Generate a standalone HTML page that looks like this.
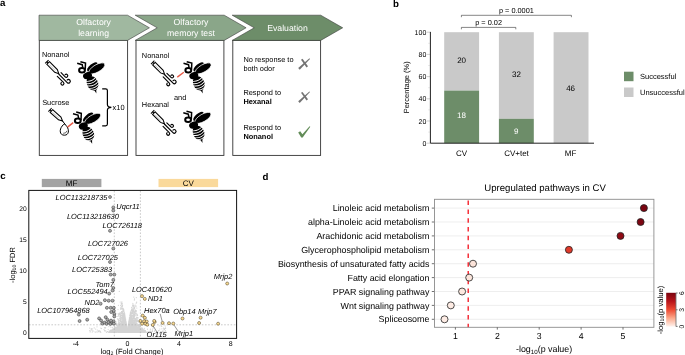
<!DOCTYPE html>
<html><head><meta charset="utf-8"><title>Figure</title>
<style>
html,body{margin:0;padding:0;background:#fff;}
body{width:685px;height:355px;overflow:hidden;}
svg{display:block;}
text{font-family:"Liberation Sans",Arial,Helvetica,sans-serif;fill:#000;text-rendering:geometricPrecision;}
.b{font-weight:bold;}
.i{font-style:italic;}
.w{fill:#fff;}
</style></head><body>
<svg width="685" height="355" viewBox="0 0 685 355">
<defs>
<g id="bee">
 <ellipse cx="11.2" cy="-2.1" rx="6.4" ry="2.7" transform="rotate(-40 11.2 -2.1)" fill="#000"/>
 <ellipse cx="15.8" cy="-0.5" rx="9" ry="3.7" transform="rotate(-30 15.8 -0.5)" fill="#000" stroke="#fff" stroke-width="0.7"/>
 <ellipse cx="6.4" cy="6.7" rx="4.6" ry="3.4" transform="rotate(-22 6.4 6.7)" fill="#000"/>
 <g transform="rotate(-22 11.4 14.4)">
  <path d="M11.4 7.2 C15.2 7.2 17 11 17 14.6 C17 18.6 14.6 21.2 12.4 22 L11.2 25.2 L10.6 22.1 C8 21.4 5.8 18.6 5.8 14.6 C5.8 11 7.6 7.2 11.4 7.2Z" fill="#000"/>
  <g fill="none" stroke="#fff" stroke-width="0.9">
   <path d="M5.2 9.6 Q11.4 13.4 17.6 9.6"/>
   <path d="M5.2 12.1 Q11.4 15.9 17.6 12.1"/>
   <path d="M5.2 14.6 Q11.4 18.4 17.6 14.6"/>
   <path d="M5.2 17.1 Q11.4 20.9 17.6 17.1"/>
   <path d="M6.2 19.5 Q11.4 22.9 16.6 19.5"/>
  </g>
 </g>
 <ellipse cx="0.9" cy="1.4" rx="2.9" ry="2.3" fill="#fff" stroke="#000" stroke-width="2"/>
 <path d="M1.7 -1.2 L1.1 -4.2 L-3.9 -5.6" fill="none" stroke="#000" stroke-width="1.5"/>
 <path d="M4.1 0.9 L4.4 -5.9 L-0.7 -7.2" fill="none" stroke="#000" stroke-width="1.5"/>
</g>
<g id="syr" fill="none" stroke="#000" stroke-width="1.05">
 <path d="M0 -2.4 L0 2.4"/>
 <path d="M0 0 L1.8 0"/>
 <path d="M1.8 -1.85 L13.0 -1.85 L16.8 0 L13.0 1.85 L1.8 1.85 Z" fill="#fff"/>
 <path d="M3.4 0.3 L12.2 0.3" stroke="#b5b5b5" stroke-width="0.7"/>
</g>
<g id="wind" fill="none" stroke="#000" stroke-width="1.15" stroke-linecap="round">
 <path d="M17.8 -2.3 L23.6 -2.3 A1.5 1.5 0 1 0 22.1 -3.8"/>
 <path d="M17.2 0.3 L29.1 0.3 A1.8 1.8 0 1 0 27.3 -1.5"/>
 <path d="M17.7 2.9 L26.4 2.9 A1.5 1.5 0 1 1 24.9 4.4"/>
</g>
<linearGradient id="reds" x1="0" y1="0" x2="0" y2="1">
 <stop offset="0" stop-color="#7a0410"/>
 <stop offset="0.25" stop-color="#b8141a"/>
 <stop offset="0.5" stop-color="#ee4a33"/>
 <stop offset="0.75" stop-color="#fca98c"/>
 <stop offset="1" stop-color="#fff3ee"/>
</linearGradient>
</defs>
<rect width="685" height="355" fill="#fff"/>

<text class="b" x="0" y="5.8" font-size="9.7">a</text>
<rect x="39.3" y="40.4" width="88.3" height="115" fill="#fff" stroke="#333" stroke-width="0.9"/>
<rect x="136" y="40.4" width="87.9" height="115" fill="#fff" stroke="#333" stroke-width="0.9"/>
<rect x="232.8" y="40.4" width="87.8" height="115" fill="#fff" stroke="#333" stroke-width="0.9"/>
<path d="M39 15.2 L127.5 15.2 L149.4 27.8 L127.5 40.4 L39 40.4 Z" fill="#a0b8a0" stroke="#3c3c3c" stroke-width="0.6"/>
<path d="M135.2 15.2 L224.2 15.2 L246.1 27.8 L224.2 40.4 L135.2 40.4 L157.2 27.8 Z" fill="#8aa689" stroke="#3c3c3c" stroke-width="0.6"/>
<path d="M232.2 15.2 L320.7 15.2 L342.7 27.8 L320.7 40.4 L232.2 40.4 L254.2 27.8 Z" fill="#6d8d69" stroke="#3c3c3c" stroke-width="0.6"/>
<text class="w" x="93.6" y="24.7" font-size="8.7" text-anchor="middle">Olfactory</text>
<text class="w" x="93.6" y="36.1" font-size="8.7" text-anchor="middle">learning</text>
<text class="w" x="191" y="24.7" font-size="8.7" text-anchor="middle">Olfactory</text>
<text class="w" x="191" y="36.1" font-size="8.7" text-anchor="middle">memory test</text>
<text class="w" x="287.5" y="30.9" font-size="8.7" text-anchor="middle">Evaluation</text>
<text x="41.9" y="56.7" font-size="7.4">Nonanol</text>
<text x="42.2" y="104.8" font-size="7.4">Sucrose</text>
<g transform="translate(46.85 61.75) rotate(45)"><use href="#syr"/><use href="#wind"/></g>
<use href="#bee" x="81.1" y="68.9"/>
<g transform="translate(50.05 109.8) rotate(42)"><use href="#syr"/></g>
<path d="M62.5 121 L66.9 126.6 C69.4 130 69 135.2 64.4 135.2 C59.4 135.2 59.2 129.6 62.2 126 C63.4 124.4 64.4 123.6 65.2 124.4" fill="none" stroke="#000" stroke-width="1"/>
<path d="M63.2 133.3 Q66.2 133.6 67 130.8" fill="none" stroke="#000" stroke-width="0.6"/>
<path d="M67.6 127.1 L73.2 122.6" stroke="#e85a48" stroke-width="1.4" fill="none"/>
<use href="#bee" x="76.9" y="119.3"/>
<path d="M102.2 88.8 L105.6 88.8 Q107.4 88.8 107.4 90.6 L107.4 104.4 Q107.4 107.2 111.4 107.3 Q107.4 107.4 107.4 110.2 L107.4 124 Q107.4 125.8 105.6 125.8 L102.2 125.8" fill="none" stroke="#000" stroke-width="1.2"/>
<text x="112.6" y="109.6" font-size="7.4">x10</text>
<text x="141.8" y="57.7" font-size="7.4">Nonanol</text>
<text x="141.8" y="106.8" font-size="7.4">Hexanal</text>
<text x="174" y="99.8" font-size="7.4">and</text>
<g transform="translate(152.7 62.4) rotate(45)"><use href="#syr"/><use href="#wind"/></g>
<path d="M177.3 77.1 L183.8 72.2" stroke="#e85a48" stroke-width="1.4" fill="none"/>
<use href="#bee" x="187.4" y="68.9"/>
<g transform="translate(152.6 111.9) rotate(45)"><use href="#syr"/><use href="#wind"/></g>
<use href="#bee" x="187.2" y="118.4"/>
<text x="243.4" y="62" font-size="7.4">No response to</text>
<text x="243.4" y="71.2" font-size="7.4">both odor</text>
<text x="243.4" y="94.8" font-size="7.4">Respond to</text>
<text class="b" x="243.4" y="104" font-size="7.4">Hexanal</text>
<text x="243.4" y="129.8" font-size="7.4">Respond to</text>
<text class="b" x="243.4" y="139" font-size="7.4">Nonanol</text>
<g transform="translate(0 0)" fill="#737373"><path d="M298.2 68.1 L299.7 69.8 L310.0 59.0 L309.4 58.3 Z"/><path d="M301.0 59.7 L302.5 58.8 L308.0 66.2 L306.5 67.4 Z"/></g>
<g transform="translate(0 33.1)" fill="#737373"><path d="M298.2 68.1 L299.7 69.8 L310.0 59.0 L309.4 58.3 Z"/><path d="M301.0 59.7 L302.5 58.8 L308.0 66.2 L306.5 67.4 Z"/></g>
<path d="M298.2 132.4 L300.2 131.2 L302.4 134.3 L309.6 126.2 L310.3 126.8 L302.7 137.5 L301.2 137.5 Z" fill="#628c58"/>
<text class="b" x="393.1" y="7.3" font-size="9.7">b</text>
<rect x="444.2" y="32.2" width="34.9" height="58.4" fill="#c9c9c9"/>
<rect x="444.2" y="90.6" width="34.9" height="52.6" fill="#6d8d69"/>
<rect x="498.9" y="32.2" width="34.9" height="86.6" fill="#c9c9c9"/>
<rect x="498.9" y="118.8" width="34.9" height="24.4" fill="#6d8d69"/>
<rect x="553.6" y="32.2" width="34.9" height="111.0" fill="#c9c9c9"/>
<path d="M428 132.1 L430.4 132.1" stroke="#ddd" stroke-width="0.6"/>
<path d="M428 109.9 L430.4 109.9" stroke="#ddd" stroke-width="0.6"/>
<path d="M428 87.7 L430.4 87.7" stroke="#ddd" stroke-width="0.6"/>
<path d="M428 65.5 L430.4 65.5" stroke="#ddd" stroke-width="0.6"/>
<path d="M428 43.3 L430.4 43.3" stroke="#ddd" stroke-width="0.6"/>
<path d="M427 143.2 L430.4 143.2" stroke="#bbb" stroke-width="0.7"/>
<text x="426.3" y="145.8" font-size="7" text-anchor="end">0</text>
<path d="M427 121.0 L430.4 121.0" stroke="#bbb" stroke-width="0.7"/>
<text x="426.3" y="123.6" font-size="7" text-anchor="end">20</text>
<path d="M427 98.8 L430.4 98.8" stroke="#bbb" stroke-width="0.7"/>
<text x="426.3" y="101.4" font-size="7" text-anchor="end">40</text>
<path d="M427 76.6 L430.4 76.6" stroke="#bbb" stroke-width="0.7"/>
<text x="426.3" y="79.2" font-size="7" text-anchor="end">60</text>
<path d="M427 54.4 L430.4 54.4" stroke="#bbb" stroke-width="0.7"/>
<text x="426.3" y="57.0" font-size="7" text-anchor="end">80</text>
<path d="M427 32.2 L430.4 32.2" stroke="#bbb" stroke-width="0.7"/>
<text x="426.3" y="34.8" font-size="7" text-anchor="end">100</text>
<path d="M430.4 31.9 L430.4 143.2 L594 143.2" fill="none" stroke="#222" stroke-width="1"/>
<text x="461.6" y="63.2" font-size="8" text-anchor="middle">20</text>
<text class="w" x="461.4" y="118.3" font-size="8" text-anchor="middle">18</text>
<text x="516.4" y="76.6" font-size="8" text-anchor="middle">32</text>
<text class="w" x="516.3" y="134" font-size="8" text-anchor="middle">9</text>
<text x="570.6" y="91.2" font-size="8" text-anchor="middle">46</text>
<text x="461.5" y="155.8" font-size="8" text-anchor="middle">CV</text>
<text x="516.5" y="155.8" font-size="8" text-anchor="middle">CV+tet</text>
<text x="570.6" y="155.8" font-size="8" text-anchor="middle">MF</text>
<text transform="translate(409 87.3) rotate(-90)" font-size="7.5" text-anchor="middle">Percentage (%)</text>
<path d="M461.4 17.2 L461.4 15.3 L571.4 15.3 L571.4 17.2" fill="none" stroke="#333" stroke-width="0.6"/>
<path d="M461.4 29.3 L461.4 27.4 L515.8 27.4 L515.8 29.3" fill="none" stroke="#333" stroke-width="0.6"/>
<text x="516.4" y="12.6" font-size="7.35" text-anchor="middle">p = 0.0001</text>
<text x="488.6" y="24.8" font-size="7.35" text-anchor="middle">p = 0.02</text>
<rect x="624" y="71.7" width="9.5" height="9.5" fill="#6d8d69"/>
<rect x="624" y="87.5" width="9.5" height="9.5" fill="#c9c9c9"/>
<text x="640" y="79.1" font-size="7.5">Successful</text>
<text x="640" y="94.9" font-size="7.5">Unsuccessful</text>
<text class="b" x="0.2" y="178.6" font-size="9.7">c</text>
<rect x="41.8" y="178.9" width="59.6" height="8.2" fill="#a3a3a3"/>
<rect x="158.5" y="178.9" width="59.6" height="8.2" fill="#fad99b"/>
<text x="71.6" y="186" font-size="8" text-anchor="middle">MF</text>
<text x="188.3" y="186" font-size="8" text-anchor="middle">CV</text>
<path d="M125.9 327.4h0M133.9 327.7h0M133.9 332.4h0M125.4 332.4h0M117.7 331.7h0M128.8 322.4h0M122.2 303.4h0M130.4 332.1h0M131.1 316.7h0M130.6 323.7h0M122.3 332.4h0M131.1 321.5h0M122.9 323.0h0M122.7 314.5h0M126.0 328.8h0M123.6 332.2h0M118.9 331.5h0M125.8 326.7h0M128.1 327.3h0M123.9 324.4h0M118.9 332.3h0M124.9 314.9h0M129.5 330.2h0M126.8 331.2h0M128.8 332.5h0M127.7 332.3h0M118.3 332.2h0M130.5 328.9h0M129.3 331.7h0M119.7 329.6h0M133.4 327.8h0M119.4 313.1h0M134.7 326.4h0M125.2 326.0h0M129.4 331.8h0M130.2 332.4h0M130.7 332.3h0M126.5 326.4h0M124.9 331.4h0M124.2 332.2h0M125.0 332.3h0M124.9 320.3h0M128.1 326.6h0M124.2 326.2h0M125.9 330.9h0M132.4 324.1h0M128.3 332.1h0M131.4 331.2h0M122.0 332.5h0M132.0 330.6h0M122.3 326.4h0M124.7 331.5h0M128.7 328.3h0M136.4 321.8h0M121.4 332.3h0M123.8 318.0h0M128.9 332.2h0M136.1 331.5h0M134.9 315.0h0M123.1 332.0h0M134.9 330.7h0M127.3 332.4h0M123.5 328.2h0M136.1 326.9h0M133.4 322.9h0M126.3 330.6h0M127.6 330.7h0M130.5 321.6h0M122.6 324.7h0M117.8 332.0h0M123.3 330.5h0M128.4 329.8h0M128.2 331.0h0M122.2 324.4h0M125.2 327.8h0M137.3 329.1h0M129.3 329.6h0M131.3 332.4h0M122.5 308.8h0M125.6 332.2h0M138.7 329.9h0M133.0 324.8h0M138.4 331.1h0M121.0 328.4h0M129.1 325.6h0M134.7 324.8h0M132.6 320.6h0M125.3 317.3h0M131.1 332.2h0M127.2 331.1h0M127.0 331.7h0M136.5 329.4h0M135.1 319.1h0M126.6 332.5h0M125.1 332.4h0M135.0 306.2h0M128.7 324.3h0M122.3 323.3h0M131.5 332.1h0M123.2 332.2h0M128.4 332.1h0M125.5 324.2h0M125.7 332.1h0M126.8 332.1h0M136.8 318.0h0M129.8 317.2h0M135.8 324.3h0M116.4 324.2h0M121.4 315.3h0M123.5 329.5h0M130.3 332.4h0M127.1 332.4h0M126.5 331.8h0M124.1 328.2h0M126.2 322.6h0M123.2 308.3h0M127.2 332.2h0M120.6 331.0h0M126.8 332.1h0M132.4 332.4h0M132.3 330.9h0M121.3 312.9h0M122.3 309.2h0M119.7 331.6h0M126.1 332.5h0M133.7 318.6h0M126.3 332.3h0M131.0 314.1h0M123.7 331.3h0M130.4 329.8h0M136.1 318.4h0M121.7 317.3h0M126.9 329.3h0M127.3 332.1h0M126.2 327.1h0M127.4 332.5h0M126.9 329.6h0M134.1 327.1h0M121.2 332.3h0M130.1 322.2h0M124.9 332.5h0M131.7 320.5h0M124.3 330.7h0M120.9 324.6h0M136.4 330.7h0M140.9 332.5h0M123.0 331.3h0M131.2 324.3h0M131.8 307.7h0M130.4 316.7h0M126.2 324.2h0M126.1 332.5h0M121.1 329.2h0M130.8 330.3h0M127.6 331.1h0M129.0 321.8h0M124.5 330.8h0M123.5 330.6h0M130.0 319.9h0M124.4 331.2h0M126.7 332.3h0M130.5 315.1h0M134.2 313.0h0M136.4 323.1h0M127.5 332.3h0M140.1 331.5h0M122.2 329.8h0M126.3 331.9h0M124.7 326.6h0M124.6 332.0h0M130.7 327.1h0M129.8 315.6h0M124.4 331.7h0M131.9 332.3h0M127.7 331.3h0M134.7 325.7h0M121.3 327.6h0M126.3 331.8h0M130.3 327.4h0M119.5 330.5h0M126.8 331.6h0M128.3 332.5h0M124.3 327.8h0M127.3 332.3h0M131.7 332.2h0M131.4 320.8h0M136.1 313.6h0M128.0 330.7h0M137.2 329.8h0M134.7 328.8h0M130.5 324.1h0M126.5 332.5h0M119.8 326.4h0M128.7 332.5h0M125.3 318.4h0M120.0 323.4h0M127.8 328.2h0M126.0 332.5h0M118.7 324.5h0M127.0 328.7h0M127.6 332.2h0M119.7 330.9h0M130.2 327.6h0M131.7 329.9h0M129.2 331.8h0M127.7 329.1h0M123.7 331.3h0M124.2 312.5h0M129.3 330.2h0M132.8 315.0h0M135.8 326.2h0M123.7 331.8h0M132.1 329.0h0M130.3 314.2h0M128.8 324.6h0M130.1 332.5h0M121.9 305.3h0M119.3 332.5h0M118.4 305.3h0M129.4 319.6h0M127.0 328.7h0M124.9 316.4h0M124.0 321.1h0M125.5 332.5h0M127.9 330.5h0M128.6 331.9h0M124.1 328.4h0M114.1 330.4h0M130.5 318.4h0M128.5 331.4h0M125.1 322.2h0M130.8 319.9h0M127.4 332.5h0M131.9 332.3h0M133.0 316.1h0M123.4 328.1h0M121.1 312.6h0M125.9 323.9h0M125.4 330.4h0M127.1 332.3h0M127.5 331.3h0M122.9 328.1h0M134.3 330.5h0M130.4 312.4h0M128.8 331.5h0M130.2 314.4h0M131.6 330.7h0M129.8 332.3h0M120.8 330.7h0M125.2 331.8h0M127.2 331.2h0M127.7 332.2h0M125.8 331.3h0M130.4 326.4h0M129.9 329.7h0M119.5 332.2h0M132.0 327.8h0M126.4 324.2h0M124.5 330.0h0M124.9 323.0h0M127.6 330.5h0M117.9 324.5h0M132.2 331.7h0M134.7 316.2h0M129.5 326.4h0M122.7 331.9h0M125.9 322.3h0M132.6 312.5h0M128.4 324.7h0M134.0 332.4h0M128.9 324.8h0M128.4 326.0h0M129.2 331.9h0M121.7 327.7h0M130.5 321.5h0M128.7 329.0h0M127.5 331.6h0M133.2 322.4h0M123.9 328.5h0M122.1 318.9h0M121.5 332.5h0M122.5 330.9h0M128.3 330.8h0M130.2 332.3h0M131.7 332.3h0M120.9 332.4h0M125.8 325.8h0M128.6 332.5h0M121.7 302.9h0M128.9 320.8h0M132.6 305.9h0M121.6 331.7h0M131.1 316.6h0M131.7 310.1h0M126.8 331.9h0M131.0 331.9h0M128.0 330.7h0M123.8 314.8h0M120.2 302.0h0M135.6 325.8h0M128.7 321.6h0M122.5 315.4h0M124.0 320.2h0M137.7 329.2h0M124.8 332.5h0M130.6 324.3h0M121.1 303.9h0M128.6 332.5h0M132.8 332.1h0M124.8 326.3h0M124.1 323.9h0M124.3 314.3h0M127.5 332.5h0M123.7 332.5h0M122.8 329.1h0M123.6 311.0h0M127.5 332.5h0M121.6 330.6h0M136.8 332.5h0M114.3 331.3h0M129.9 328.0h0M120.7 331.4h0M125.6 332.5h0M135.2 311.2h0M132.8 325.7h0M127.1 332.3h0M130.7 332.5h0M122.5 318.2h0M132.6 330.3h0M121.5 311.6h0M126.6 325.5h0M129.9 332.5h0M127.1 330.6h0M136.4 327.5h0M131.2 331.1h0M134.3 314.4h0M119.2 323.0h0M132.2 311.2h0M126.2 331.5h0M129.3 332.4h0M130.1 332.5h0M137.9 326.3h0M128.3 332.5h0M124.5 322.9h0M127.2 331.6h0M130.0 331.7h0M128.6 325.3h0M130.5 318.2h0M124.2 332.3h0M135.4 330.7h0M124.8 332.5h0M127.2 331.1h0M124.0 311.5h0M132.2 332.5h0M122.1 313.8h0M122.2 323.6h0M129.8 332.4h0M128.9 332.5h0M130.3 313.4h0M134.1 323.5h0M128.5 330.2h0M121.1 330.1h0M131.9 331.2h0M125.3 332.3h0M125.8 324.8h0M124.1 323.8h0M123.8 328.9h0M129.3 321.1h0M131.3 330.8h0M133.0 327.8h0M130.6 328.0h0M124.1 330.2h0M133.7 317.0h0M127.2 332.0h0M128.5 332.3h0M115.7 329.3h0M129.2 325.7h0M129.3 332.2h0M127.5 332.1h0M130.1 331.8h0M136.7 332.0h0M130.0 329.8h0M123.9 323.2h0M130.5 329.4h0M133.1 311.8h0M119.2 323.2h0M132.4 327.6h0M126.7 331.2h0M118.8 324.5h0M128.6 324.3h0M128.8 324.3h0M123.8 327.7h0M124.3 332.3h0M127.4 332.5h0M123.1 320.3h0M130.7 323.0h0M128.4 330.3h0M129.0 328.8h0M133.5 322.3h0M126.0 327.8h0M130.8 328.8h0M131.2 321.2h0M119.7 331.9h0M132.8 332.4h0M126.5 332.5h0M122.1 317.3h0M124.7 331.5h0M126.7 330.5h0M129.4 330.2h0M128.1 328.3h0M130.4 328.0h0M123.6 309.7h0M125.4 332.3h0M130.1 318.8h0M126.8 332.1h0M124.1 332.5h0M126.6 332.0h0M125.3 329.6h0M121.9 328.3h0M137.7 332.3h0M133.3 311.6h0M131.4 332.5h0M127.4 332.5h0M128.4 331.4h0M134.6 307.9h0M133.6 311.2h0M124.9 322.7h0M127.0 332.4h0M125.4 329.2h0M131.6 326.1h0M116.2 332.5h0M130.9 325.2h0M121.8 327.9h0M114.5 332.2h0M122.0 332.5h0M134.3 323.6h0M128.6 327.2h0M123.7 314.7h0M123.0 325.0h0M127.9 331.5h0M120.9 307.6h0M130.2 327.6h0M126.5 324.4h0M121.6 328.8h0M125.4 327.3h0M120.7 332.4h0M125.3 327.9h0M132.1 332.5h0M132.2 321.7h0M121.3 315.8h0M120.2 330.7h0M124.2 320.1h0M130.4 332.5h0M129.4 326.1h0M127.2 331.9h0M124.8 325.0h0M129.2 328.1h0M130.2 319.7h0M133.1 320.9h0M125.1 325.6h0M128.2 332.5h0M136.2 331.8h0M129.8 319.3h0M128.2 328.7h0M127.9 332.3h0M127.1 331.0h0M125.8 321.3h0M127.0 330.3h0M128.4 328.7h0M128.4 331.7h0M126.9 328.9h0M125.4 330.4h0M121.8 317.7h0M133.8 327.8h0M122.4 327.3h0M123.0 332.4h0M123.4 327.9h0M131.7 320.0h0M127.3 332.4h0M132.5 330.2h0M133.7 316.0h0M132.0 332.3h0M117.6 330.5h0M127.4 332.5h0M120.6 324.3h0M128.6 326.7h0M129.1 332.4h0M130.9 331.3h0M120.9 319.8h0M128.8 332.1h0M125.7 328.3h0M121.7 331.8h0M133.9 310.1h0M123.0 325.2h0M128.9 320.6h0M131.9 323.7h0M126.7 331.2h0M131.7 332.5h0M128.5 332.4h0M139.4 332.3h0M122.6 332.1h0M131.7 324.0h0M122.4 331.7h0M131.7 329.2h0M129.4 332.2h0M127.8 330.3h0M125.1 322.8h0M131.5 330.8h0M132.1 331.7h0M127.6 331.1h0M136.6 330.7h0M140.4 329.5h0M131.4 332.3h0M122.3 312.1h0M125.2 331.7h0M136.0 318.8h0M134.6 329.7h0M124.5 331.1h0M130.2 332.0h0M122.3 307.9h0M129.4 320.6h0M125.4 329.1h0M126.4 332.1h0M129.7 331.1h0M129.0 325.8h0M123.1 332.5h0M129.3 332.2h0M129.8 318.0h0M128.9 332.3h0M131.6 319.2h0M128.2 332.4h0M122.1 330.2h0M129.6 324.5h0M130.3 331.7h0M136.0 325.0h0M127.1 329.8h0M130.6 331.8h0M130.1 332.0h0M122.0 332.5h0M121.1 323.1h0M123.5 328.9h0M127.4 332.2h0M133.9 322.9h0M120.3 332.5h0M131.4 331.7h0M130.9 317.2h0M130.0 323.7h0M127.8 331.0h0M121.1 315.1h0M136.8 308.0h0M132.2 325.2h0M126.9 331.6h0M132.5 310.1h0M118.8 331.3h0M133.7 327.1h0M117.6 318.9h0M125.1 330.6h0M127.4 332.3h0M122.7 332.4h0M121.1 332.5h0M135.5 329.5h0M125.4 328.1h0M134.6 330.0h0M124.5 332.2h0M126.6 330.4h0M129.2 332.3h0M125.8 331.4h0M127.5 332.0h0M131.7 323.9h0M125.1 324.1h0M120.3 317.9h0M122.5 330.8h0M128.6 331.0h0M126.6 331.6h0M130.2 326.6h0M127.9 332.5h0M131.7 332.4h0M122.6 316.9h0M130.6 312.8h0M127.2 332.2h0M122.2 320.8h0M133.7 322.9h0M126.7 328.7h0M130.0 318.6h0M137.3 315.4h0M122.8 326.6h0M126.6 331.3h0M122.0 329.2h0M130.0 327.9h0M123.9 330.4h0M132.1 322.9h0M138.5 326.8h0M116.0 332.5h0M134.6 322.8h0M136.2 319.3h0M134.4 322.2h0M125.1 330.4h0M124.8 329.9h0M121.3 321.1h0M116.9 331.0h0M130.1 327.6h0M123.7 331.7h0M122.0 328.6h0M135.7 332.4h0M118.7 328.3h0M127.2 332.3h0M131.6 320.8h0M129.6 327.5h0M126.6 330.3h0M135.0 325.6h0M129.8 322.4h0M129.5 332.0h0M128.1 332.5h0M128.1 329.2h0M125.3 331.4h0M137.6 315.2h0M123.7 329.0h0M133.4 319.3h0M127.4 332.3h0M130.5 315.7h0M129.4 327.1h0M120.3 330.6h0M123.1 326.2h0M128.6 332.2h0M125.1 316.5h0M125.5 332.3h0M121.8 327.2h0M130.1 319.6h0M124.8 331.8h0M126.5 332.5h0M124.7 332.0h0M126.7 332.0h0M128.9 330.1h0M132.8 331.7h0M121.8 327.9h0M131.2 310.4h0M128.3 332.4h0M126.2 324.1h0M122.7 330.8h0M124.3 316.5h0M132.4 323.7h0M126.1 330.9h0M123.3 330.0h0M125.5 332.0h0M130.4 323.5h0M133.2 328.2h0M122.5 332.4h0M125.8 332.3h0M126.4 331.1h0M130.6 332.5h0M123.7 329.6h0M120.1 313.2h0M127.5 332.3h0M124.9 332.3h0M135.5 310.8h0M130.7 331.6h0M125.5 332.5h0M124.3 331.8h0M131.4 319.5h0M127.2 331.3h0M127.3 331.0h0M128.2 332.5h0M132.2 332.4h0M127.5 331.5h0M130.6 320.5h0M135.1 326.1h0M127.2 332.3h0M139.3 322.2h0M123.0 332.4h0M125.4 328.6h0M130.1 321.5h0M123.2 332.4h0M123.7 331.5h0M126.2 327.5h0M125.3 331.6h0M123.7 332.0h0M122.6 313.2h0M118.0 331.1h0M123.5 327.2h0M128.5 332.4h0M126.1 332.0h0M131.8 331.5h0M125.5 332.3h0M124.5 329.9h0M128.5 332.5h0M137.1 332.2h0M124.1 325.5h0M132.6 326.7h0M130.1 332.5h0M134.7 316.9h0M135.2 329.9h0M127.5 332.5h0M129.1 331.3h0M130.7 317.0h0M130.6 319.5h0M132.0 329.5h0M131.7 329.8h0M122.4 328.4h0M129.5 332.5h0M124.0 330.5h0M125.3 325.2h0M130.6 312.2h0M133.5 331.2h0M127.3 331.6h0M133.7 326.1h0M125.6 328.9h0M122.8 327.1h0M121.9 306.4h0M125.6 328.1h0M125.2 332.4h0M124.5 313.9h0M135.2 305.0h0M123.9 330.5h0M124.5 330.1h0M128.4 332.2h0M124.7 332.4h0M124.4 325.7h0M121.2 321.4h0M125.1 332.0h0M133.0 332.1h0M130.3 332.3h0M123.1 326.1h0M123.5 324.3h0M132.7 321.7h0M132.6 332.3h0M125.2 332.3h0M136.7 332.0h0M130.2 331.9h0M134.6 308.8h0M127.7 332.3h0M126.7 330.1h0M128.5 327.6h0M132.1 329.2h0M128.1 327.6h0M131.4 318.7h0M136.2 332.4h0M125.3 327.8h0M128.3 325.3h0M125.4 331.9h0M128.3 332.4h0M128.6 329.4h0M125.2 330.2h0M134.7 321.0h0M123.5 310.1h0M125.6 329.0h0M134.7 332.5h0M131.8 319.9h0M122.2 331.7h0M130.7 316.0h0M125.6 331.0h0M130.0 326.2h0M130.8 329.6h0M119.9 326.4h0M127.0 331.0h0M126.8 331.2h0M129.2 332.2h0M125.2 331.3h0M122.9 323.5h0M128.7 328.2h0M124.3 319.4h0M124.1 320.6h0M119.2 327.2h0M121.8 332.4h0M124.7 314.3h0M121.9 330.6h0M127.9 332.4h0M120.3 329.0h0M128.4 331.7h0M124.0 325.8h0M130.6 325.3h0M132.8 313.4h0M116.9 332.3h0M115.0 328.0h0M127.3 332.5h0M126.4 332.1h0M124.3 324.9h0M132.9 331.3h0M125.9 328.1h0M129.8 327.5h0M122.9 320.9h0M120.2 328.0h0M133.0 332.4h0M123.7 326.7h0M123.7 327.4h0M129.4 326.9h0M126.6 332.4h0M129.2 324.4h0M136.4 324.2h0M119.9 320.0h0M123.1 329.6h0M127.1 330.9h0M128.2 331.8h0M129.7 329.1h0M126.2 323.2h0M127.9 331.2h0M121.8 328.2h0M131.6 317.6h0M128.6 332.3h0M133.8 321.5h0M133.1 328.1h0M129.5 323.9h0M130.4 332.5h0M128.2 325.5h0M119.1 327.3h0M129.4 330.9h0M129.7 323.6h0M135.1 325.9h0M128.7 329.0h0M124.5 331.2h0M126.9 332.2h0M130.2 324.4h0M121.8 331.0h0M124.3 317.1h0M130.5 320.7h0M129.5 330.8h0M115.2 331.0h0M124.2 328.1h0M116.8 330.2h0M131.5 316.9h0M129.8 319.6h0M132.3 332.5h0M139.4 332.5h0M130.2 322.0h0M130.3 323.3h0M139.3 332.4h0M128.4 328.3h0M134.1 330.5h0M124.9 332.5h0M132.5 309.3h0M124.3 328.6h0M131.2 332.0h0M126.9 332.4h0M123.3 310.7h0M130.7 315.4h0M126.9 332.3h0M127.2 332.5h0M121.5 322.0h0M126.8 329.8h0M123.2 324.7h0M123.3 328.0h0M133.1 327.6h0M124.7 313.6h0M123.1 330.9h0M128.3 326.5h0M130.1 332.5h0M125.6 326.8h0M122.6 305.1h0M127.1 331.6h0M120.8 327.2h0M126.0 329.4h0M120.8 328.7h0M122.4 331.0h0M123.9 313.8h0M118.2 319.7h0M123.3 332.0h0M133.8 322.7h0M116.9 329.5h0M132.5 326.1h0M129.8 331.4h0M131.8 315.1h0M121.1 332.2h0M132.6 328.4h0M123.2 328.9h0M124.3 332.5h0M129.7 332.4h0M131.4 330.6h0M125.5 322.3h0M118.3 314.6h0M126.2 330.5h0M121.2 329.5h0M121.7 304.2h0M136.4 326.1h0M124.8 332.4h0M127.6 331.7h0M135.1 323.7h0M116.6 323.4h0M127.0 332.5h0M124.3 320.0h0M127.8 332.3h0M136.9 332.0h0M135.7 318.6h0M135.7 310.5h0M135.8 324.8h0M129.7 330.7h0M126.8 326.3h0M126.7 331.8h0M127.0 331.2h0M121.4 332.4h0M123.5 316.5h0M130.2 331.7h0M134.2 327.2h0M120.8 320.0h0M120.5 331.0h0M133.9 332.4h0M124.6 329.3h0M122.7 330.4h0M128.8 326.8h0M129.9 328.8h0M133.2 306.9h0M119.8 332.4h0M128.9 328.3h0M133.0 322.3h0M129.5 325.3h0M125.2 331.8h0M129.1 321.2h0M128.1 332.4h0M130.4 329.0h0M125.0 318.3h0M126.1 332.5h0M126.8 328.4h0M126.3 329.2h0M124.3 332.0h0M131.8 313.4h0M133.0 319.2h0M128.6 332.4h0M118.3 323.8h0M126.2 325.3h0M122.7 329.0h0M127.4 332.2h0M125.0 332.2h0M125.8 323.3h0M129.3 332.5h0M135.4 332.4h0M124.2 331.2h0M127.2 331.0h0M126.7 330.5h0M133.5 311.1h0M125.9 329.3h0M134.3 331.8h0M122.6 328.4h0M125.6 332.1h0M124.1 332.3h0M129.5 328.7h0M124.6 328.2h0M131.1 326.4h0M124.8 329.5h0M128.3 332.0h0M132.1 309.8h0M133.7 310.3h0M125.8 325.5h0M130.0 332.5h0M121.9 329.8h0M129.3 327.7h0M128.2 327.9h0M126.9 332.2h0M113.9 332.4h0M120.8 308.2h0M129.8 317.9h0M125.3 331.6h0M126.5 332.3h0M125.6 332.0h0M128.4 324.1h0M137.7 320.7h0M127.5 332.4h0M135.1 327.5h0M135.3 313.5h0M127.3 331.5h0M132.6 321.8h0M130.8 312.0h0M130.1 314.8h0M128.4 326.1h0M127.8 331.5h0M128.0 327.7h0M123.8 328.9h0M129.6 325.0h0M137.5 324.1h0M134.1 332.5h0M135.6 324.9h0M122.3 329.1h0M128.6 325.1h0M123.9 332.3h0M126.2 330.5h0M121.8 332.0h0M126.7 327.9h0M129.3 319.5h0M124.7 317.7h0M117.9 325.0h0M131.2 315.9h0M131.1 332.5h0M133.7 325.1h0M129.0 330.9h0M126.2 328.6h0M123.1 328.7h0M121.9 301.9h0M131.9 324.0h0M126.1 332.5h0M126.0 321.9h0M129.9 326.3h0M125.8 330.6h0M127.3 332.3h0M127.8 331.2h0M130.3 329.6h0M136.3 310.6h0M131.4 315.3h0M128.9 332.3h0M115.6 331.0h0M127.1 332.2h0M132.0 328.4h0M141.9 330.2h0M122.3 331.3h0M124.7 332.3h0M127.0 331.9h0M131.9 331.4h0M132.7 310.5h0M128.3 332.3h0M127.7 331.4h0M122.8 330.4h0M119.0 320.1h0M125.4 331.5h0M127.6 330.5h0M122.4 306.3h0M127.5 332.1h0M127.6 332.0h0M128.4 331.7h0M123.8 328.9h0M136.3 327.1h0M119.2 327.2h0M132.0 324.5h0M130.9 332.4h0M122.2 322.4h0M125.7 324.3h0M129.2 326.4h0M127.6 330.5h0M129.6 324.4h0M125.1 331.2h0M128.4 332.4h0M121.7 332.3h0M130.1 332.5h0M125.2 331.3h0M133.3 322.1h0M128.0 328.4h0M130.6 324.1h0M124.6 326.3h0M129.5 331.8h0M133.0 323.1h0M137.3 332.5h0M121.3 332.4h0M121.0 320.2h0M121.8 321.2h0M129.1 319.1h0M132.3 329.3h0M129.6 328.8h0M131.7 320.2h0M125.7 331.0h0M129.6 331.2h0M130.7 326.7h0M123.8 321.0h0M128.9 328.7h0M122.7 316.6h0M127.0 332.3h0M124.3 329.9h0M130.9 329.6h0M135.8 323.3h0M129.6 332.1h0M128.5 322.9h0M136.2 322.2h0M128.7 332.4h0M121.0 330.9h0M127.4 332.2h0M123.9 310.7h0M126.8 328.3h0M129.1 332.5h0M129.1 330.6h0M125.7 322.1h0M125.2 330.8h0M118.8 322.0h0M124.9 331.4h0M132.1 332.2h0M124.9 331.8h0M120.0 316.3h0M125.7 332.4h0M127.1 331.7h0M120.4 312.9h0M127.9 329.8h0M124.2 315.0h0M125.7 331.7h0M131.6 328.5h0M130.0 325.2h0M127.3 332.5h0M137.7 332.4h0M131.5 310.2h0M121.1 318.0h0M131.4 331.9h0M137.1 332.0h0M136.4 330.9h0M128.6 329.8h0M130.4 324.7h0M118.8 332.2h0M134.3 329.3h0M126.8 329.2h0M124.5 324.2h0M129.0 332.3h0M134.6 327.6h0M131.9 330.0h0M127.7 331.3h0M137.2 332.5h0M129.9 323.9h0M121.7 325.6h0M120.7 316.9h0M132.2 332.5h0M122.6 327.2h0M130.0 316.1h0M118.9 329.7h0M125.7 331.1h0M137.1 328.8h0M127.4 332.5h0M128.9 322.5h0M122.7 315.3h0M135.4 320.5h0M136.0 328.1h0M123.5 325.4h0M130.8 326.3h0M123.2 309.3h0M128.5 324.5h0M131.9 318.4h0M131.0 328.0h0M124.0 320.0h0M127.5 332.4h0M136.2 330.5h0M126.5 329.1h0M120.3 318.6h0M125.7 332.4h0M128.3 331.4h0M129.2 329.1h0M136.1 329.1h0M127.8 332.5h0M125.4 325.5h0M118.6 332.1h0M132.2 312.3h0M129.4 321.6h0M130.2 331.0h0M131.2 312.8h0M132.1 322.8h0M125.5 332.2h0M123.1 331.2h0M128.3 326.4h0M137.6 325.8h0M126.9 329.0h0M127.3 332.2h0M130.8 318.5h0M126.2 326.3h0M128.0 332.2h0M123.3 321.9h0M115.9 332.4h0M121.7 330.7h0M133.5 332.0h0M118.5 332.1h0M132.3 331.6h0M128.2 332.4h0M132.4 325.9h0M134.2 332.3h0M129.1 328.4h0M138.1 317.9h0M127.6 330.3h0M128.0 332.1h0M133.1 314.8h0M133.1 329.2h0M129.8 330.3h0M127.8 330.7h0M126.1 330.1h0M127.0 332.2h0M119.5 314.6h0M130.9 314.0h0M129.1 327.7h0M129.4 331.8h0M133.5 331.8h0M130.9 324.8h0M132.9 317.8h0M141.5 329.0h0M135.5 330.5h0M129.4 317.7h0M123.4 309.2h0M123.0 320.3h0M133.0 331.7h0M127.4 332.2h0M127.1 331.3h0M126.6 332.1h0M138.1 331.3h0M132.0 323.0h0M128.9 331.8h0M131.2 327.5h0M136.7 329.1h0M133.0 332.4h0M129.7 332.5h0M126.2 323.0h0M131.6 325.2h0M133.5 317.7h0M124.5 331.3h0M123.2 315.7h0M139.4 330.4h0M131.1 330.9h0M127.9 331.1h0M126.4 327.6h0M122.7 319.7h0M127.6 331.8h0M123.4 321.9h0M133.6 310.8h0M114.2 329.8h0M128.4 331.3h0M122.3 332.0h0M128.1 332.0h0M130.5 329.1h0M125.3 327.3h0M134.5 327.6h0M125.6 332.1h0M126.3 328.2h0M130.4 313.8h0M128.6 328.4h0M127.9 332.2h0M130.8 316.3h0M132.9 331.2h0M134.6 311.9h0M127.9 332.3h0M127.2 332.4h0M126.5 324.7h0M130.2 315.5h0M130.6 330.1h0M122.4 327.3h0M122.9 332.4h0M130.4 332.3h0M121.0 330.0h0M129.8 330.5h0M123.7 311.8h0M130.6 322.3h0M120.5 330.5h0M130.5 332.3h0M124.2 321.7h0M130.8 331.3h0M134.5 320.1h0M129.9 326.6h0M133.8 330.4h0M127.1 331.4h0M127.2 330.9h0M128.3 329.2h0M124.5 316.4h0M128.8 327.4h0M127.2 332.3h0M128.9 326.4h0M137.4 327.7h0M123.7 332.4h0M125.5 332.5h0M124.1 313.5h0M132.0 331.4h0M132.4 324.3h0M121.4 322.9h0M127.8 332.5h0M122.3 330.6h0M125.4 331.0h0M125.4 329.4h0M124.3 332.5h0M140.0 331.5h0M119.5 328.7h0M132.4 332.2h0M129.2 331.3h0M127.8 332.5h0M130.5 326.5h0M129.2 332.1h0M128.0 331.8h0M130.5 312.8h0M130.7 320.4h0M137.2 321.5h0M135.0 329.1h0M130.0 315.7h0M135.7 327.5h0M127.5 332.3h0M130.7 316.6h0M125.9 325.6h0M125.4 329.8h0M132.4 322.6h0M137.2 314.3h0M138.9 326.5h0M133.6 330.0h0M123.7 329.5h0M125.4 331.7h0M132.4 320.4h0M134.8 330.1h0M126.1 325.2h0M127.2 332.2h0M129.1 328.7h0M121.8 328.6h0M133.7 305.2h0M136.3 311.5h0M122.3 314.0h0M129.8 331.7h0M125.0 332.3h0M126.8 328.5h0M127.7 332.5h0M127.2 331.9h0M119.1 322.8h0M135.0 328.5h0M132.7 332.1h0M128.8 331.0h0M136.1 331.8h0M128.7 328.6h0M119.0 324.4h0M124.8 322.5h0M128.7 324.0h0M133.6 327.4h0M124.1 331.6h0M125.7 325.5h0M130.2 327.6h0M125.8 321.0h0M134.8 307.0h0M133.6 312.2h0M118.9 330.6h0M132.5 313.0h0M120.4 329.9h0M126.4 330.2h0M124.9 332.5h0M122.4 315.9h0M127.8 331.4h0M131.0 313.6h0M129.7 323.9h0M127.4 332.1h0M125.8 321.8h0M129.3 323.4h0M126.0 330.1h0M127.9 332.3h0M130.6 324.4h0M126.3 332.0h0M130.7 330.3h0M123.7 327.0h0M133.6 331.1h0M124.7 332.0h0M123.7 329.5h0M125.3 332.1h0M132.4 332.5h0M132.9 328.5h0M118.5 325.1h0M122.9 324.1h0M122.5 305.9h0M125.1 317.4h0M121.8 331.4h0M136.7 302.1h0M124.5 327.6h0M119.3 327.3h0M122.2 327.9h0M119.5 329.6h0M123.5 329.2h0M133.6 329.8h0M122.1 331.7h0M127.0 332.3h0M137.2 331.4h0M127.7 332.3h0M126.4 325.3h0M134.3 300.1h0M132.9 331.3h0M127.3 332.2h0M129.0 332.5h0M128.3 328.5h0M125.5 332.1h0M130.7 322.5h0M124.0 331.3h0M129.1 332.2h0M121.8 332.4h0M118.8 332.4h0M117.9 316.4h0M124.4 314.3h0M135.6 318.9h0M129.7 330.1h0M127.2 330.8h0M129.0 332.5h0M129.2 326.3h0M118.9 325.1h0M123.6 329.1h0M125.9 324.9h0M130.0 314.8h0M125.5 324.1h0M126.8 332.3h0M131.6 330.5h0M129.5 318.8h0M127.5 331.3h0M115.3 332.1h0M127.9 332.1h0M136.3 323.5h0M126.7 329.0h0M125.8 329.5h0M126.7 329.5h0M126.4 325.1h0M116.2 323.7h0M133.6 332.0h0M127.4 332.3h0M127.2 331.5h0M124.3 318.5h0M133.9 332.2h0M134.7 332.5h0M121.0 314.0h0M126.7 326.6h0M128.6 325.5h0M130.1 327.8h0M125.6 320.5h0M117.3 329.3h0M130.9 313.7h0M122.5 311.1h0M123.4 331.1h0M130.4 322.9h0M121.8 331.6h0M131.7 326.1h0M126.8 330.6h0M128.0 332.3h0M122.6 332.5h0M128.2 331.9h0M118.2 313.5h0M122.3 329.8h0M131.7 307.4h0M134.8 330.8h0M124.5 318.6h0M123.4 332.5h0M126.7 331.3h0M133.7 308.3h0M128.5 326.0h0M138.2 328.7h0M132.5 329.3h0M133.2 316.3h0M134.8 329.6h0M130.7 322.9h0M121.4 331.6h0M126.3 331.3h0M131.0 332.0h0M129.2 327.7h0M128.5 330.1h0M120.8 326.2h0M126.4 332.5h0M123.6 318.7h0M127.9 332.2h0M132.9 327.7h0M122.3 331.0h0M122.1 326.1h0M128.3 332.4h0M126.2 328.1h0M123.0 325.4h0M131.4 331.9h0M125.6 321.2h0M125.7 332.1h0M130.2 318.4h0M125.4 326.6h0M133.8 328.4h0M135.0 311.4h0M131.7 327.5h0M126.1 323.4h0M131.5 328.4h0M128.2 329.0h0M132.6 330.3h0M125.4 330.1h0M125.1 332.1h0M133.0 324.8h0M130.4 327.5h0M129.1 320.7h0M130.0 332.1h0M124.4 322.9h0M124.9 315.7h0M136.2 303.2h0M126.6 329.8h0M126.5 328.5h0M121.3 329.8h0M133.6 332.5h0M134.0 313.6h0M131.7 320.6h0M129.1 330.8h0M129.7 328.6h0M124.5 327.3h0M123.9 330.7h0M120.5 325.9h0M125.5 328.4h0M125.8 326.2h0M128.8 331.8h0M133.6 327.6h0M125.9 326.5h0M130.2 322.2h0M128.9 331.0h0M125.5 324.3h0M127.0 332.2h0M129.2 326.1h0M121.5 330.0h0M132.5 332.5h0M134.3 315.5h0M137.7 329.8h0M126.0 325.1h0M126.9 331.7h0M126.6 328.5h0M121.8 329.3h0M131.0 331.9h0M124.9 319.5h0M130.9 329.3h0M136.6 323.4h0M121.2 330.2h0M133.1 327.7h0M133.0 313.7h0M123.0 322.0h0M127.8 330.3h0M123.7 331.5h0M135.2 330.2h0M120.9 328.7h0M132.4 320.1h0M121.8 332.0h0M128.6 330.8h0M119.2 331.9h0M131.7 313.0h0M127.7 332.0h0M126.2 330.1h0M129.3 330.4h0M128.5 326.6h0M131.4 328.7h0M128.2 332.0h0M127.5 330.9h0M132.8 331.1h0M130.0 332.3h0M123.2 325.7h0M125.2 328.2h0M130.9 326.5h0M121.8 308.4h0M131.3 329.7h0M121.8 329.9h0M139.9 324.4h0M133.8 322.3h0M125.0 320.1h0M124.2 313.0h0M123.6 331.9h0M122.9 327.0h0M123.9 318.2h0M116.8 325.1h0M127.3 332.4h0M135.9 312.2h0M123.6 331.8h0M121.9 330.4h0M125.5 327.0h0M130.7 330.4h0M124.4 327.8h0M125.1 330.9h0M124.2 324.4h0M128.8 331.9h0M127.5 332.2h0M133.7 332.5h0M126.2 332.2h0M130.7 332.5h0M132.2 312.5h0M116.1 330.2h0M131.6 332.5h0M126.3 332.4h0M125.3 332.1h0M126.2 323.6h0M117.8 328.7h0M127.8 329.0h0M125.4 323.1h0M123.7 310.7h0M127.0 332.2h0M125.4 331.8h0M130.3 329.8h0M120.6 332.5h0M127.6 330.3h0M124.9 330.4h0M126.5 331.1h0M124.1 314.0h0M120.6 309.2h0M126.5 326.9h0M131.3 322.6h0M121.8 321.6h0M128.7 332.5h0M128.7 324.8h0M119.9 316.7h0M134.5 329.2h0M134.0 315.5h0M129.9 324.5h0M131.0 332.3h0M121.5 331.7h0M129.5 330.2h0M129.6 327.1h0M129.8 327.5h0M121.0 307.4h0M130.9 332.5h0M128.2 330.3h0M129.4 331.1h0M126.8 330.5h0M124.1 327.4h0M135.0 312.9h0M131.6 318.5h0M136.3 297.6h0M127.4 332.5h0M133.2 330.4h0M125.4 330.4h0M129.6 332.3h0M127.5 332.3h0M127.8 329.9h0M116.0 324.0h0M126.5 325.3h0M121.2 325.8h0M128.7 330.1h0M130.0 318.0h0M120.3 320.3h0M120.0 330.1h0M116.5 332.2h0M119.3 291.4h0M121.7 309.0h0M130.7 321.3h0M126.9 330.2h0M122.7 332.5h0M122.6 322.2h0M125.8 326.9h0M125.0 330.9h0M117.3 331.8h0M127.1 329.7h0M136.6 326.1h0M129.9 328.1h0M124.8 327.6h0M122.7 328.3h0M123.6 309.5h0M120.7 326.8h0M127.6 332.5h0M133.5 306.0h0M118.2 328.9h0M131.4 327.9h0M138.9 329.3h0M121.8 332.5h0M115.3 327.2h0M119.6 332.3h0M129.9 330.9h0M127.2 332.1h0M132.0 332.5h0M129.8 332.4h0M130.6 326.8h0M134.4 325.8h0M127.3 331.8h0M136.5 332.1h0M133.0 320.9h0M129.1 332.4h0M124.7 322.8h0M126.2 332.1h0M123.0 323.3h0M126.0 327.7h0M136.4 321.1h0M127.8 331.4h0M118.1 325.9h0M117.0 328.6h0M131.6 315.1h0M124.4 312.3h0M130.1 332.4h0M129.8 331.4h0M124.6 328.3h0M126.8 329.9h0M132.6 319.5h0M126.7 332.3h0M133.0 326.6h0M121.1 313.0h0M123.9 325.2h0M130.5 328.0h0M129.7 323.3h0M124.4 318.4h0M130.7 318.9h0M122.4 328.5h0M130.8 316.6h0M125.7 332.2h0M123.8 329.8h0M130.1 322.9h0M129.3 331.0h0M130.3 331.1h0M126.7 331.2h0M126.7 327.6h0M127.3 330.8h0M128.0 332.5h0M134.8 318.9h0M123.0 330.3h0M135.4 332.5h0M124.8 323.8h0M117.3 331.3h0M123.0 328.2h0M130.7 325.3h0M128.9 328.2h0M136.8 317.1h0M121.3 327.7h0M131.6 319.5h0M135.0 314.6h0M136.7 323.1h0M117.9 327.6h0M133.6 309.5h0M122.4 332.0h0M131.9 329.4h0M129.6 332.0h0M130.9 332.4h0M126.3 330.4h0M133.3 320.8h0M127.8 331.5h0M120.8 323.1h0M123.9 309.8h0M126.9 332.5h0M126.6 331.4h0M126.8 332.5h0M122.0 324.8h0M125.2 323.8h0M129.8 332.3h0M127.5 331.3h0M125.0 318.0h0M133.1 330.5h0M122.4 329.9h0M128.0 331.9h0M133.8 297.1h0M122.7 321.0h0M132.5 309.3h0M127.8 330.7h0M128.7 330.9h0M128.7 329.4h0M123.3 323.7h0M127.5 332.2h0M121.5 331.5h0M132.0 325.7h0M130.6 317.4h0M121.6 303.6h0M125.8 332.3h0M124.4 325.7h0M134.9 322.1h0M134.1 307.5h0M137.2 329.9h0M135.7 327.8h0M134.0 328.9h0M123.8 315.8h0M123.1 330.8h0M124.4 317.4h0M130.7 321.8h0M126.0 325.6h0M127.9 332.4h0M125.4 329.3h0M128.8 332.4h0M120.4 331.5h0M136.1 332.1h0M126.2 331.9h0M121.3 326.7h0M126.0 331.2h0M127.9 329.7h0M128.9 326.5h0M131.4 330.3h0M125.5 331.8h0M125.2 320.6h0M123.1 328.7h0M116.8 329.1h0M127.3 332.0h0M127.8 331.7h0M134.0 327.1h0M133.9 327.3h0M133.3 314.0h0M135.0 328.6h0M122.6 326.8h0M128.7 324.7h0M129.8 320.8h0M129.6 329.0h0M124.1 318.6h0M127.1 329.0h0M128.4 331.0h0M123.7 332.2h0M133.8 320.3h0M123.8 331.8h0M134.6 320.9h0M123.5 330.0h0M127.9 332.4h0M121.7 306.3h0M128.6 329.6h0M125.7 332.4h0M123.0 328.6h0M136.8 328.1h0M134.1 316.5h0M127.7 331.7h0M136.7 314.0h0M126.3 332.0h0M128.8 324.7h0M118.6 327.0h0M130.1 324.4h0M121.6 331.3h0M136.0 319.8h0M125.7 331.0h0M128.8 332.5h0M126.4 332.0h0M126.0 326.5h0M121.6 321.6h0M134.2 327.1h0M128.2 326.6h0M134.6 326.6h0M128.0 332.2h0M129.0 325.4h0M125.8 325.0h0M128.7 332.5h0M126.9 329.5h0M123.3 318.7h0M125.5 328.3h0M119.7 330.9h0M125.4 332.4h0M122.0 321.9h0M131.8 332.1h0M127.4 332.5h0M127.3 332.4h0M137.6 328.4h0M127.4 332.4h0M127.0 328.1h0M132.6 329.3h0M129.4 320.6h0M138.3 327.4h0M139.8 328.1h0M128.1 331.6h0M130.1 331.3h0M121.8 329.5h0M122.3 332.0h0M133.4 332.2h0M138.2 332.4h0M126.1 329.4h0M130.1 327.8h0M125.5 326.8h0M112.7 330.1h0M127.0 332.2h0M129.8 327.6h0M132.1 332.2h0M119.1 331.8h0M129.4 329.2h0M132.2 327.9h0M129.6 318.0h0M125.3 318.0h0M135.5 310.0h0M125.0 322.9h0M129.6 322.0h0M125.1 332.5h0M125.0 320.0h0M124.7 314.7h0M141.1 332.1h0M124.7 325.7h0M118.6 329.0h0M140.3 328.0h0M130.4 312.1h0M128.2 326.3h0M123.5 332.1h0M115.4 332.5h0M125.7 319.0h0M127.2 331.2h0M120.7 331.7h0M117.0 331.6h0M131.7 330.6h0M127.8 330.5h0M132.6 329.5h0M131.7 332.5h0M126.2 331.5h0M126.9 330.8h0M119.1 331.3h0M130.3 332.3h0M125.8 327.2h0M128.7 329.1h0M134.8 315.3h0M121.7 313.5h0M124.7 329.1h0M122.0 322.5h0M123.7 328.1h0M116.7 332.1h0M136.6 325.1h0M120.0 327.1h0M127.5 331.6h0M131.8 326.6h0M126.5 325.9h0M129.6 331.4h0M124.1 327.7h0M124.2 318.8h0M134.9 332.0h0M124.3 332.4h0M127.2 330.4h0M124.1 315.0h0M134.7 332.1h0M122.2 330.6h0M135.9 331.8h0M128.1 330.3h0M124.6 319.6h0M131.3 329.8h0M125.2 329.8h0M121.5 328.5h0M130.3 326.2h0M129.8 326.0h0M133.1 330.4h0M123.4 317.1h0M129.9 329.1h0M130.3 331.8h0M130.1 330.4h0M119.7 325.7h0M121.6 312.6h0M115.7 329.0h0M134.4 314.6h0M124.0 332.1h0M131.5 319.9h0M120.5 330.9h0M129.7 324.7h0M127.0 330.3h0M125.4 331.5h0M130.0 327.0h0M125.4 331.2h0M126.4 326.9h0M129.6 320.1h0M125.8 332.5h0M129.7 327.8h0M130.8 328.4h0M128.2 328.2h0M126.4 324.1h0M127.0 332.4h0M124.3 315.9h0M126.6 332.2h0M132.9 319.2h0M125.4 331.4h0M141.8 332.4h0M123.3 331.6h0M115.1 328.9h0M131.6 321.2h0M123.8 314.5h0M130.2 331.4h0M120.8 321.3h0M125.6 329.5h0M138.0 332.5h0M126.1 328.5h0M128.0 332.0h0M132.7 332.1h0M123.4 328.3h0M132.2 329.6h0M129.7 329.8h0M131.4 324.8h0M121.8 311.7h0M128.1 328.3h0M124.8 331.3h0M137.1 327.4h0M121.4 332.2h0M124.6 320.1h0M131.1 332.0h0M128.0 331.6h0M125.5 322.7h0M117.1 326.6h0M124.4 321.2h0M131.4 320.3h0M122.2 330.2h0M135.2 328.6h0M130.7 312.2h0M130.0 326.9h0M121.6 322.2h0M138.4 331.9h0M133.0 319.2h0M130.5 314.4h0M128.2 332.1h0M128.0 330.8h0M127.8 331.2h0M135.2 325.9h0M125.3 324.2h0M117.0 325.7h0M133.9 325.1h0M128.1 327.1h0M125.9 323.7h0M130.5 321.8h0M129.9 315.0h0M126.3 332.4h0M134.1 328.7h0M127.0 332.5h0M136.7 317.6h0M122.7 322.2h0M128.5 332.4h0M125.7 330.1h0M128.1 332.5h0M127.1 331.5h0M124.7 326.6h0M123.4 318.8h0M124.0 327.5h0M122.8 332.5h0M119.5 331.0h0M123.8 330.8h0M126.1 332.4h0M132.8 328.6h0M125.1 320.6h0M120.7 328.5h0M126.2 322.8h0M118.2 332.3h0M129.9 330.0h0M141.3 328.0h0M122.3 322.4h0M126.9 332.5h0M115.3 328.8h0M122.3 330.8h0M125.2 332.4h0M129.4 325.3h0M125.5 332.4h0M137.8 321.6h0M131.6 309.8h0M126.3 323.3h0M126.3 325.8h0M121.2 307.1h0M128.2 330.3h0M124.5 315.6h0M124.0 328.7h0M122.2 332.5h0M135.1 331.8h0M127.0 329.4h0M130.0 332.5h0M127.6 332.1h0M133.5 330.5h0M113.5 329.7h0M135.4 332.0h0M128.5 323.5h0M125.1 328.8h0M130.5 322.3h0M122.8 331.5h0M134.0 325.0h0M129.8 323.0h0M124.7 332.2h0M119.9 323.5h0M118.7 315.7h0M124.1 327.8h0M122.5 331.1h0M120.9 330.3h0M119.4 326.0h0M133.2 318.4h0M130.0 330.3h0M129.5 331.0h0M135.2 332.5h0M128.8 330.3h0M134.4 317.1h0M130.8 328.7h0M132.7 320.5h0M123.0 316.1h0M131.8 329.7h0M132.4 332.5h0M125.0 321.2h0M135.2 326.1h0M121.4 325.9h0M126.6 332.3h0M124.0 330.9h0M133.7 332.5h0M124.5 332.4h0M133.4 332.1h0M125.8 324.6h0M128.2 332.5h0M128.5 332.4h0M127.2 330.3h0M129.7 323.0h0M128.2 331.6h0M129.4 329.6h0M125.3 323.4h0M124.3 320.9h0M123.8 330.3h0M132.9 322.0h0M121.1 332.3h0M131.5 332.1h0M129.9 320.3h0M124.3 325.9h0M123.8 332.0h0M132.8 304.9h0M126.8 332.5h0M125.1 328.6h0M133.8 317.9h0M118.6 326.4h0M129.4 331.8h0M125.7 332.5h0M126.8 332.1h0M124.5 332.5h0M127.1 332.1h0M122.7 329.5h0M127.0 332.2h0M132.6 331.2h0M132.6 332.0h0M119.9 331.9h0M124.0 322.4h0M121.8 327.9h0M128.4 326.5h0M135.7 332.2h0M127.8 331.9h0M130.9 317.1h0M130.2 315.5h0M126.9 330.2h0M128.0 332.4h0M128.5 332.3h0M126.0 327.7h0M129.2 332.1h0M127.6 332.5h0M120.3 315.7h0M130.9 324.5h0M126.1 332.4h0M120.2 332.2h0M128.0 330.3h0M128.3 328.3h0M127.7 331.5h0M123.5 317.3h0M129.0 329.4h0M137.8 328.9h0M124.1 313.2h0M122.2 332.5h0M120.4 328.8h0M132.7 332.3h0M130.4 330.1h0M120.3 326.6h0M128.1 330.3h0M132.0 329.0h0M123.4 326.3h0M127.6 332.5h0M128.9 330.6h0M116.1 321.9h0M118.4 327.3h0M125.5 324.6h0M121.6 329.8h0M132.2 330.3h0M130.6 330.9h0M111.1 331.5h0M129.9 332.4h0M136.4 326.6h0M130.0 318.1h0M123.0 331.9h0M125.5 332.1h0M132.7 309.1h0M120.9 332.1h0M126.3 327.5h0M125.9 323.1h0M129.6 332.2h0M119.7 323.8h0M124.3 321.6h0M122.5 312.2h0M142.3 332.2h0M122.5 330.6h0M126.9 332.4h0M124.8 328.7h0M117.3 330.7h0M124.3 332.5h0M125.4 324.1h0M115.7 329.7h0M130.4 332.5h0M129.4 330.3h0M132.8 316.4h0M134.2 321.5h0M133.6 325.5h0M122.3 318.0h0M129.4 332.5h0M126.7 326.1h0M138.8 331.6h0M130.0 328.5h0M135.2 331.9h0M128.1 330.1h0M119.2 332.5h0M126.4 332.4h0M130.7 325.6h0M126.9 330.6h0M119.9 321.6h0M130.5 323.6h0M129.8 331.4h0M129.5 330.5h0M134.9 330.2h0M116.9 325.4h0M130.6 330.3h0M118.4 332.5h0M122.4 321.7h0M130.2 324.8h0M126.3 330.0h0M123.4 317.6h0M122.0 330.5h0M134.8 332.5h0M132.8 328.9h0M119.2 331.4h0M120.7 315.2h0M125.1 331.7h0M127.3 332.1h0M133.1 323.7h0M126.1 323.1h0M127.0 332.0h0M130.0 327.7h0M128.6 327.4h0M120.5 323.0h0M130.3 316.4h0M124.1 321.5h0M128.3 330.8h0M129.4 332.2h0M133.4 332.5h0M129.3 327.6h0M129.6 332.1h0M125.7 326.7h0M137.8 317.3h0M133.6 332.3h0M126.4 323.7h0M123.4 319.9h0M122.9 327.6h0M126.5 332.3h0M118.9 332.3h0M125.3 331.4h0M128.1 332.5h0M136.0 315.2h0M118.9 320.4h0M131.1 332.1h0M123.2 324.1h0M118.3 321.1h0M121.9 332.5h0M126.4 323.8h0M134.5 331.5h0M130.3 319.6h0M122.8 317.1h0M126.2 329.5h0M127.9 332.2h0M122.7 332.3h0M133.7 324.0h0M115.9 332.2h0M121.9 323.3h0M122.9 331.1h0M124.9 316.7h0M140.0 327.9h0M124.7 330.1h0M124.3 314.6h0M122.7 322.0h0M127.0 330.0h0M122.3 332.3h0M138.4 325.3h0M112.0 329.9h0M126.0 328.9h0M127.2 330.7h0M136.1 318.9h0M132.1 321.2h0M125.6 330.9h0M122.2 313.6h0M122.7 332.4h0M132.2 332.3h0M132.6 327.9h0M131.8 321.7h0M120.9 331.8h0M131.6 315.8h0M125.6 320.1h0M135.2 332.4h0M125.5 331.5h0M118.8 324.0h0M122.3 324.2h0M124.6 331.8h0M132.3 328.9h0M127.1 330.9h0M118.7 328.4h0M122.8 324.5h0M125.7 330.3h0M126.1 330.3h0M125.2 332.3h0M129.6 332.0h0M124.6 316.6h0M127.8 332.3h0M132.8 321.9h0M127.3 331.8h0M120.2 315.7h0M125.0 330.2h0M132.7 319.8h0M122.6 330.6h0M128.2 329.1h0M130.4 313.0h0M133.0 320.0h0M121.8 331.8h0M123.0 332.1h0M132.6 308.9h0M123.3 314.6h0M129.5 327.6h0M126.3 330.3h0M116.8 330.3h0M129.4 323.0h0M128.3 332.5h0M135.3 322.1h0M121.7 324.1h0M124.7 331.8h0M137.6 325.2h0M121.5 331.2h0M136.7 331.2h0M126.4 332.5h0M131.7 322.4h0M135.9 320.4h0M128.5 326.0h0M123.4 328.3h0M134.2 330.7h0M126.3 328.0h0M125.0 318.8h0M131.9 322.6h0M126.5 324.6h0M132.4 312.3h0M133.0 325.8h0M119.2 314.0h0M116.0 332.4h0M133.9 332.2h0M128.8 323.7h0M127.9 329.5h0M124.8 326.0h0M121.1 326.5h0M126.4 328.1h0M136.3 319.0h0M125.8 332.4h0M131.3 316.3h0M116.0 330.6h0M123.8 320.3h0M122.7 311.2h0M123.8 327.0h0M125.9 327.2h0M126.5 324.9h0M125.7 320.1h0M128.0 332.3h0M133.9 322.8h0M131.9 325.3h0M129.7 319.0h0M123.4 323.5h0M132.7 319.3h0M133.6 329.1h0M127.1 329.8h0M124.5 331.8h0M124.4 332.4h0M123.3 326.9h0M132.6 315.5h0M127.8 330.7h0M122.7 324.5h0M125.6 322.9h0M130.1 319.1h0M132.9 303.3h0M131.1 332.5h0M127.7 330.7h0M130.4 329.9h0M133.1 328.6h0M126.9 327.7h0M129.4 320.0h0M133.3 323.1h0M129.9 331.6h0M130.1 330.5h0M128.2 327.1h0M137.0 320.0h0M124.5 322.9h0M119.7 318.4h0M130.5 320.6h0M135.6 319.7h0M126.3 330.3h0M117.8 332.2h0M122.9 322.9h0M127.2 332.3h0M131.8 311.6h0M126.5 332.5h0M134.9 332.0h0M120.7 315.7h0M124.3 324.4h0M124.6 317.6h0M137.4 329.4h0M130.2 328.3h0M121.9 324.2h0M128.4 326.3h0M132.5 318.1h0M119.8 314.4h0M125.1 331.4h0M128.1 328.3h0M130.9 331.0h0M132.5 326.4h0M134.3 314.8h0M127.8 332.2h0M135.9 329.7h0M135.8 330.9h0M126.2 329.6h0M125.5 332.3h0M123.1 324.0h0M130.3 328.1h0M129.1 329.8h0M135.5 331.8h0M127.4 332.4h0M115.4 328.6h0M132.2 327.4h0M124.0 315.2h0M126.0 321.4h0M126.2 325.2h0M126.4 330.5h0M126.5 331.2h0M120.5 319.3h0M131.0 330.7h0M128.5 325.4h0M130.0 330.1h0M132.3 332.4h0M127.4 332.5h0M127.3 331.5h0M129.1 331.1h0M129.9 332.3h0M131.1 332.5h0M131.1 322.3h0M124.1 332.4h0M141.2 329.4h0M135.8 332.4h0M134.3 331.7h0M123.0 331.1h0M123.4 313.5h0M121.3 319.2h0M119.7 322.5h0M127.6 332.3h0M123.4 332.5h0M129.2 327.9h0M121.7 324.0h0M122.9 325.1h0M129.3 332.3h0M127.1 332.1h0M117.3 325.4h0M134.9 328.3h0M133.9 326.2h0M123.6 319.6h0M129.9 332.5h0M129.0 332.1h0M124.3 323.7h0M123.7 321.3h0M126.8 328.2h0M127.7 332.2h0M126.6 332.3h0M135.7 319.4h0M131.9 327.6h0M130.6 325.0h0M131.1 331.7h0M127.5 332.1h0M130.7 331.8h0M136.4 328.7h0M130.8 332.1h0M119.7 332.1h0M129.2 323.8h0M126.5 332.4h0M126.2 326.7h0M128.9 332.0h0M132.8 331.7h0M127.2 331.8h0M127.0 330.0h0M125.8 332.5h0M121.7 332.5h0M133.9 327.7h0M123.3 317.2h0M125.9 328.9h0M122.9 328.2h0M128.3 327.9h0M132.2 311.7h0M124.7 315.3h0M120.9 328.1h0M133.1 327.1h0M134.0 311.5h0M127.5 331.5h0M120.6 331.1h0M135.0 310.9h0M127.2 330.9h0M119.3 332.2h0M127.5 331.7h0M125.2 329.6h0M121.7 332.3h0M117.1 331.8h0M138.1 326.3h0M128.2 332.1h0M133.3 318.0h0M133.4 332.5h0M134.5 332.0h0M125.2 328.1h0M130.2 323.8h0M125.3 328.9h0M111.6 332.3h0M128.4 329.8h0M137.2 331.9h0M123.9 328.1h0M121.8 322.2h0M126.9 329.9h0M129.9 332.5h0M128.7 331.2h0M127.3 331.4h0M116.6 332.4h0M129.0 324.8h0M128.8 329.3h0M120.5 331.3h0M133.7 316.5h0M121.8 325.4h0M129.0 331.5h0M133.1 328.2h0M125.9 331.8h0M122.8 313.2h0M135.4 327.6h0M123.9 318.1h0M121.0 321.7h0M131.8 332.4h0M134.3 327.0h0M131.5 332.4h0M124.1 331.5h0M118.8 332.5h0M125.7 329.4h0M126.6 331.6h0M133.4 310.9h0M116.2 331.7h0M127.5 332.0h0M121.8 332.1h0M127.5 332.4h0M128.6 332.1h0M126.3 331.4h0M128.4 332.0h0M123.3 332.2h0M133.7 330.8h0M130.5 321.2h0M124.7 331.0h0M128.6 332.1h0M122.0 324.0h0M128.5 331.6h0M120.5 332.4h0M124.2 320.7h0M134.8 318.3h0M137.7 326.6h0M137.8 332.3h0M127.8 330.0h0M124.5 326.4h0M127.0 328.9h0M121.5 328.2h0M129.6 331.1h0M126.4 332.5h0M123.4 329.8h0M136.6 327.6h0M128.1 332.4h0M132.7 330.2h0M122.3 324.1h0M126.8 330.2h0M125.6 330.3h0M128.1 332.4h0M134.7 321.6h0M128.4 332.5h0M135.1 321.9h0M129.6 318.7h0M131.3 318.4h0M121.9 312.9h0M134.2 320.4h0M126.3 329.1h0M126.9 330.0h0M132.0 324.8h0M116.4 328.6h0M126.1 327.9h0M136.5 320.7h0M126.7 332.5h0M121.7 332.2h0M135.1 323.8h0M131.7 329.5h0M125.3 328.8h0M126.4 328.4h0M134.7 323.2h0M128.2 331.6h0M129.9 325.1h0M138.2 321.9h0M120.9 327.4h0M128.5 328.7h0M131.7 309.2h0M125.3 330.4h0M143.0 331.3h0M128.0 331.4h0M125.6 321.4h0M128.6 332.4h0M126.3 330.7h0M120.1 331.8h0M129.6 319.3h0M124.2 332.4h0M126.5 328.0h0M128.8 332.5h0M125.2 326.2h0M123.9 317.6h0M132.8 331.0h0M133.5 325.7h0M123.9 310.6h0M131.0 328.3h0M132.4 315.6h0M124.3 315.1h0M134.2 326.8h0M134.5 327.6h0M128.3 331.4h0M129.2 326.2h0M124.9 320.1h0M127.9 330.9h0M129.7 328.8h0M122.3 328.2h0M124.8 317.7h0M136.8 325.6h0M123.7 323.8h0M134.5 298.9h0M125.5 329.9h0M128.8 329.5h0M123.0 326.8h0M131.8 328.6h0M121.3 313.5h0M124.7 329.9h0M128.8 327.8h0M132.1 332.5h0M133.0 318.9h0M133.3 327.5h0M133.2 315.0h0M130.1 329.2h0M123.8 328.6h0M128.6 322.6h0M129.3 326.6h0M124.4 316.8h0M122.4 331.1h0M127.4 332.1h0M119.6 331.1h0M132.9 322.0h0M130.3 330.4h0M126.7 331.6h0M126.9 331.8h0M119.7 320.0h0M128.0 326.5h0M126.7 329.9h0M120.9 307.6h0M130.2 331.3h0M130.1 331.2h0M113.9 330.6h0M126.0 327.9h0M122.2 331.8h0M134.8 311.6h0M135.6 332.3h0M135.3 331.4h0M125.7 332.4h0M122.4 324.7h0M123.6 328.7h0M129.9 329.5h0M121.0 328.2h0M122.0 331.1h0M121.1 331.3h0M122.7 323.0h0M127.8 331.4h0M130.6 322.7h0M128.2 331.8h0M122.4 331.3h0M113.6 332.0h0M124.4 317.9h0M125.3 332.5h0M124.9 321.0h0M125.7 331.6h0M127.4 332.5h0M136.0 321.6h0M125.9 328.8h0M127.8 332.5h0M124.8 321.1h0M124.3 325.3h0M129.3 328.9h0M120.0 332.5h0M129.8 332.1h0M131.9 317.3h0M126.9 328.0h0M132.3 331.7h0M124.7 332.5h0M129.8 327.5h0M121.2 332.5h0M123.0 332.3h0M130.5 329.1h0M130.6 331.9h0M126.3 331.5h0M140.9 332.1h0M121.7 324.8h0M129.9 323.2h0M127.4 332.5h0M135.9 328.3h0M118.0 309.6h0M131.8 330.2h0M139.3 332.2h0M129.3 331.4h0M130.5 312.3h0M124.0 323.0h0M136.2 306.1h0M129.2 328.4h0M136.2 324.6h0M136.8 323.7h0M129.9 325.9h0M135.3 328.1h0M135.9 311.5h0M130.9 323.6h0M128.7 322.8h0M126.1 332.2h0M124.3 314.0h0M126.2 329.9h0M127.4 332.5h0M128.9 332.3h0M124.1 329.2h0M132.3 316.0h0M125.6 321.1h0M130.2 324.2h0M130.6 322.4h0M137.8 321.0h0M133.6 315.5h0M132.2 318.0h0M125.1 329.0h0M131.6 332.2h0M126.8 327.3h0M133.8 317.6h0M130.0 327.0h0M124.6 328.1h0M131.5 331.0h0M121.4 332.4h0M120.5 325.5h0M130.2 319.0h0M122.8 326.8h0M129.7 321.2h0M127.6 332.2h0M131.9 325.0h0M127.5 331.2h0M134.9 332.4h0M133.2 331.9h0M129.0 332.5h0M133.3 322.0h0M125.0 330.6h0M130.1 316.6h0M129.9 325.9h0M128.7 327.3h0M120.5 305.6h0M123.3 317.7h0M126.1 332.2h0M128.2 330.0h0M127.0 332.2h0M123.5 330.7h0M123.0 323.1h0M129.4 320.2h0M128.9 332.3h0M129.7 332.5h0M120.1 326.3h0M129.6 325.1h0M131.9 332.5h0M133.5 331.9h0M122.7 319.7h0M126.5 330.2h0M128.9 322.9h0M123.7 328.5h0M123.0 318.7h0M141.1 330.1h0M140.0 331.2h0M124.5 330.2h0M109.6 332.5h0M137.4 331.8h0M123.5 331.2h0M121.6 330.8h0M116.9 331.1h0M130.2 331.8h0M122.0 332.0h0M142.4 332.3h0M129.6 330.5h0M123.8 330.1h0M142.5 330.2h0M120.4 329.6h0M130.1 326.4h0M135.0 326.6h0M126.1 328.7h0M120.6 329.6h0M119.3 332.0h0M135.9 326.4h0M124.0 332.3h0M136.1 330.8h0M125.2 332.4h0M125.8 327.2h0M139.7 330.6h0M123.4 330.6h0M118.2 331.3h0M126.0 331.7h0M132.4 332.3h0M146.3 332.2h0M122.0 330.8h0M143.5 332.2h0M117.7 331.4h0M125.2 327.1h0M140.1 331.1h0M134.8 332.2h0M117.9 330.6h0M121.2 330.5h0M142.1 331.4h0M134.6 332.0h0M143.9 331.4h0M140.4 330.4h0M140.7 330.0h0M133.3 331.6h0M120.2 320.6h0M138.3 329.7h0M122.8 324.8h0M140.6 330.3h0M117.4 330.2h0M143.3 331.2h0M112.0 332.5h0M125.1 332.4h0M111.5 332.5h0M120.3 330.9h0M130.3 331.9h0M119.2 332.2h0M118.4 329.1h0M141.4 330.0h0M140.3 330.6h0M121.5 330.8h0M134.3 328.0h0M133.5 332.5h0M112.6 330.8h0M134.7 330.6h0M135.6 332.0h0M131.5 330.7h0M142.3 332.0h0M135.4 329.5h0M123.8 325.2h0M136.0 332.1h0M143.2 331.5h0M112.4 330.3h0M117.0 331.1h0M136.9 329.6h0M112.8 332.4h0M136.0 330.5h0M127.7 331.6h0M127.9 331.0h0M144.2 331.3h0M137.9 326.9h0M127.0 331.3h0M138.8 331.8h0M118.8 328.1h0M116.8 329.3h0M126.2 331.8h0M140.3 325.5h0M137.0 330.5h0M134.7 331.7h0M123.5 332.3h0M120.1 332.0h0M128.9 326.9h0M124.7 331.9h0M139.9 331.2h0M119.3 331.0h0M120.8 330.0h0M124.3 328.1h0M130.3 329.5h0M123.0 332.1h0M128.4 330.9h0M141.8 331.2h0M121.1 331.1h0M136.2 320.8h0M137.4 330.7h0M130.6 331.1h0M144.6 331.8h0M135.9 331.7h0M131.2 328.8h0M128.3 331.8h0M119.7 330.5h0M132.8 331.2h0M122.1 330.3h0M113.2 330.2h0M134.1 332.1h0M116.0 329.2h0M132.0 331.3h0M134.6 331.9h0M115.0 331.8h0M116.9 329.2h0M117.8 330.9h0M115.9 332.5h0M119.2 325.7h0M122.2 330.6h0M142.4 328.2h0M140.1 326.4h0M112.6 329.9h0M129.2 331.4h0M131.7 331.2h0M113.0 328.8h0M137.8 331.1h0M125.5 331.9h0M122.2 330.4h0M122.1 331.7h0M124.7 332.1h0M142.3 332.1h0M129.8 328.8h0M124.3 331.1h0M111.2 331.7h0M144.2 332.1h0M119.9 331.8h0M117.8 330.0h0M114.3 328.7h0M112.6 330.4h0M119.2 332.2h0M118.3 331.8h0M136.4 326.3h0M116.2 330.9h0M130.6 331.6h0M124.0 332.1h0M132.4 327.1h0M131.7 328.8h0M144.6 330.3h0M140.5 330.5h0M126.6 329.4h0M139.2 326.9h0M122.3 332.5h0M124.4 330.6h0M115.1 327.8h0M128.2 328.8h0M116.4 324.8h0M131.2 329.7h0M131.5 326.1h0M128.9 331.4h0M123.2 331.3h0M135.1 330.4h0M118.8 326.5h0M115.1 329.5h0M135.1 331.4h0M120.9 330.5h0M133.6 332.5h0M142.1 332.3h0M116.3 331.1h0M145.7 332.3h0M143.6 332.4h0M136.3 326.4h0M121.5 324.8h0M138.3 326.3h0M116.0 331.3h0M125.3 332.0h0M117.9 326.9h0M139.5 330.4h0M125.0 331.4h0M111.7 332.0h0M117.9 332.0h0M116.0 327.3h0M122.1 332.5h0M116.1 328.0h0M122.1 330.6h0M124.0 328.7h0M125.4 330.6h0M142.5 332.3h0M128.1 330.2h0M131.7 324.9h0M136.6 329.7h0M134.4 331.3h0M116.7 332.2h0M129.5 332.0h0M122.3 331.2h0M129.3 328.3h0M128.3 330.7h0M115.9 332.3h0M118.8 332.4h0M125.5 330.1h0M134.6 332.2h0M129.4 331.7h0M116.4 332.4h0M109.4 331.2h0M124.7 329.7h0M120.1 332.3h0M116.0 332.5h0M143.2 332.2h0M118.1 327.0h0M110.3 332.4h0M116.1 330.1h0M140.1 332.5h0M118.9 331.2h0M134.5 331.1h0M120.9 330.1h0M128.6 330.3h0M134.0 330.9h0M131.4 316.3h0M119.6 330.8h0M129.6 331.6h0M114.5 331.2h0M117.6 330.9h0M130.3 332.2h0M115.2 331.8h0M131.0 330.2h0M135.6 331.0h0M117.8 332.1h0M123.1 332.3h0M118.5 329.5h0M142.9 331.3h0M110.9 331.7h0M123.2 330.9h0M128.6 331.7h0M134.0 332.4h0M124.0 331.9h0M126.2 327.4h0M113.2 330.0h0M139.4 325.2h0M122.7 330.7h0M143.7 331.1h0M135.0 332.1h0M117.6 332.0h0M134.9 331.1h0M117.1 331.5h0M121.7 329.8h0M142.4 328.7h0M140.8 328.4h0M116.5 330.9h0M117.1 329.1h0M134.1 331.0h0M121.2 332.3h0M137.1 328.8h0M140.5 329.6h0M139.7 324.1h0M125.5 328.8h0M136.9 332.2h0M136.7 331.5h0M122.5 331.7h0M119.3 329.1h0M114.8 328.5h0M132.0 322.0h0M135.2 331.0h0M118.8 331.6h0M139.4 328.3h0M127.6 331.3h0M135.6 329.9h0M122.8 331.7h0M143.3 331.7h0M133.8 330.3h0M117.4 329.7h0M128.0 331.4h0M113.5 332.0h0M142.8 331.0h0M126.2 331.8h0M139.5 330.2h0M115.9 331.9h0M135.0 331.6h0M125.5 321.5h0M122.8 331.2h0M125.8 331.2h0M116.4 332.1h0M111.6 330.9h0M114.3 330.2h0M138.7 331.2h0M122.7 332.3h0M139.7 332.1h0M134.3 331.5h0M122.1 329.3h0M129.9 332.2h0M126.2 331.6h0M135.5 330.6h0M124.3 322.6h0M130.1 329.6h0M122.7 331.2h0M139.1 327.6h0M118.6 330.4h0M136.7 330.6h0M109.6 332.3h0M142.1 330.7h0M138.8 331.9h0M135.6 331.3h0M116.5 331.6h0M118.3 332.0h0M129.8 328.4h0M134.5 332.1h0M141.0 331.5h0M140.6 330.0h0M135.3 330.6h0M121.1 326.6h0M125.0 332.3h0M132.9 328.7h0M138.2 330.6h0M119.0 331.0h0M108.5 332.3h0M122.3 330.0h0M141.5 332.0h0M109.6 332.3h0M130.6 329.9h0M118.8 330.7h0M111.8 330.1h0M114.9 331.0h0M118.0 330.0h0M129.4 331.4h0M146.3 332.4h0M137.3 331.5h0M136.2 330.8h0M119.8 331.0h0M143.7 332.3h0M123.3 329.8h0M115.7 324.4h0M124.7 330.3h0M139.0 329.2h0M134.6 332.2h0M136.7 330.2h0M116.2 330.2h0M116.7 331.7h0M136.8 332.1h0M136.3 331.9h0M108.4 332.1h0M119.1 328.5h0M130.6 331.8h0M136.1 331.8h0M122.3 331.8h0M128.5 325.0h0M147.1 332.5h0M133.1 332.1h0M143.3 329.6h0M118.3 323.0h0M114.7 330.8h0M137.8 330.5h0M143.6 332.1h0M136.9 330.2h0M125.9 328.3h0M117.6 331.3h0M127.0 332.5h0M138.0 331.2h0M139.3 324.1h0M124.3 319.1h0M118.4 330.1h0M111.5 330.7h0M121.4 330.8h0M127.6 332.3h0M131.0 332.2h0M113.1 332.5h0M128.6 332.0h0M143.2 332.1h0M134.4 328.4h0M120.7 328.3h0M134.8 332.3h0M126.6 332.0h0M126.8 329.9h0M132.9 325.1h0M118.0 329.4h0M130.6 327.6h0M114.3 329.8h0M111.8 330.8h0M133.6 330.0h0M132.1 332.3h0M133.3 327.1h0M136.1 327.8h0M125.1 327.9h0M137.6 332.2h0M137.2 331.8h0M142.9 331.2h0M141.8 331.1h0M141.7 329.3h0M130.1 330.7h0M118.9 331.3h0M130.5 323.8h0M133.7 326.2h0M119.4 329.8h0M135.3 328.0h0M132.8 330.5h0M114.7 328.9h0M115.3 331.5h0M130.7 331.7h0M137.6 332.3h0M134.2 332.4h0M143.0 329.8h0M121.4 332.3h0M117.0 332.4h0M114.3 329.1h0M118.6 328.5h0M136.8 329.9h0M128.6 332.0h0M118.6 330.7h0M138.6 331.6h0M133.0 332.4h0M114.8 327.0h0M131.3 330.0h0M139.1 332.5h0M115.2 332.3h0M138.8 331.0h0M138.7 326.4h0M122.0 328.6h0M120.7 325.6h0M117.6 329.3h0M118.7 331.1h0M113.0 332.0h0M115.9 328.9h0M139.7 331.8h0M127.3 332.5h0M117.8 328.6h0M115.9 331.1h0M133.9 331.2h0M134.6 327.6h0M134.0 328.8h0M128.7 332.1h0M116.9 332.3h0M119.1 330.4h0M140.5 331.7h0M115.1 330.3h0M115.3 332.3h0M139.7 327.5h0M122.4 331.4h0M120.6 332.1h0M116.3 330.7h0M118.1 330.8h0M112.1 331.2h0M139.8 332.1h0M130.2 331.4h0M126.8 331.0h0M141.0 330.1h0M143.0 331.4h0M112.7 332.0h0M139.3 331.0h0M143.0 331.1h0M123.6 329.1h0M126.7 331.1h0M140.4 331.1h0M119.6 331.8h0M138.3 331.4h0M138.4 329.5h0M138.8 330.3h0M132.6 332.0h0M123.4 329.5h0M117.4 332.2h0M127.0 332.4h0M138.2 331.9h0M118.2 332.1h0M130.3 329.4h0M116.4 332.1h0M125.3 331.4h0M114.0 332.2h0M134.9 330.0h0M127.9 332.0h0M125.7 331.7h0M122.5 322.7h0M112.4 330.2h0M118.3 331.8h0M133.1 331.2h0M141.8 332.1h0M139.1 331.3h0M117.7 326.9h0M128.3 329.4h0M119.3 327.2h0M145.3 331.9h0M114.1 332.0h0M122.7 331.0h0M126.7 326.7h0M133.5 325.3h0M130.4 327.9h0M137.8 330.6h0M126.1 332.2h0M135.8 326.7h0M121.2 328.4h0M125.0 332.3h0M122.6 331.0h0M143.5 330.6h0M122.9 332.4h0M113.9 330.0h0M144.6 331.8h0M115.7 332.0h0M135.9 326.0h0M113.1 331.9h0M116.4 331.2h0M117.0 331.7h0M124.2 332.0h0M119.7 331.2h0M124.5 331.5h0M113.1 331.9h0M120.6 332.2h0M127.8 329.6h0M138.6 331.0h0M135.1 331.4h0M119.0 332.3h0M126.3 327.8h0M141.2 331.8h0M116.9 330.2h0M135.7 331.9h0M144.3 330.6h0M118.4 332.0h0M118.3 319.1h0M126.7 328.2h0M139.6 326.9h0M131.9 327.4h0M115.3 330.7h0M139.1 328.4h0M125.1 329.6h0M128.2 328.4h0M129.4 327.8h0M117.0 330.9h0M135.8 332.5h0M111.7 332.1h0M121.2 332.3h0M130.8 330.1h0M121.3 331.8h0M139.9 331.3h0M116.6 331.7h0M134.2 327.6h0M117.8 332.2h0M115.0 331.3h0M131.0 332.1h0M122.5 332.1h0M127.5 332.0h0M118.4 326.9h0M120.3 331.6h0M137.9 332.5h0M132.8 332.4h0M133.5 329.7h0M118.9 329.7h0M123.3 329.6h0M142.3 329.6h0M134.3 331.9h0M145.2 331.6h0M119.8 326.0h0M121.5 328.2h0M110.0 332.5h0M117.1 327.6h0M125.3 327.8h0M121.0 332.4h0M125.6 325.0h0M111.3 331.1h0M140.8 332.1h0M135.9 321.4h0M139.1 332.0h0M114.9 329.8h0M114.2 331.1h0M126.8 330.6h0M141.3 332.5h0M129.5 332.1h0M120.6 323.9h0M131.6 331.9h0M134.8 323.8h0M121.2 331.9h0M133.6 327.8h0M127.4 331.9h0M130.9 325.2h0M126.2 330.5h0M112.1 332.1h0M124.0 329.8h0M122.7 331.7h0M134.8 331.1h0M123.8 332.0h0M130.9 331.2h0M128.8 330.8h0M124.6 326.8h0M143.0 331.7h0M145.5 332.1h0M126.7 332.5h0M119.5 332.4h0M111.6 330.2h0M116.2 330.6h0M143.2 329.6h0M140.9 329.8h0M137.6 330.8h0M144.4 332.4h0M129.1 328.5h0M114.1 330.8h0M145.6 331.9h0M124.5 332.2h0M141.6 331.7h0M125.9 331.8h0M130.3 330.3h0M119.8 324.9h0M134.1 323.5h0M141.3 331.8h0M130.2 329.9h0M132.1 327.3h0M143.1 331.6h0M134.8 332.1h0M122.9 324.4h0M133.3 332.5h0M125.8 332.2h0M132.8 330.6h0M117.9 332.1h0M120.4 332.4h0M123.0 329.0h0M113.1 331.9h0M120.0 331.9h0M112.4 331.4h0M117.0 331.5h0M137.2 331.9h0M144.0 331.6h0M118.7 331.0h0M142.8 329.4h0M123.4 328.0h0M134.1 332.0h0M119.1 332.3h0M127.9 332.3h0M130.5 331.7h0M115.9 330.5h0M114.3 330.9h0M125.3 331.3h0M129.1 332.0h0M120.2 330.6h0M121.3 332.4h0M128.1 331.5h0M132.0 331.4h0M136.8 330.0h0M128.4 330.2h0M129.7 331.9h0M123.3 330.6h0M116.5 330.0h0M137.6 328.5h0M118.0 329.5h0M124.2 331.5h0M135.8 328.9h0M113.5 331.9h0M132.6 331.7h0M121.2 329.9h0M131.5 326.6h0M129.2 327.0h0M131.5 329.6h0M129.7 331.9h0M146.2 331.9h0M115.1 330.4h0M120.3 319.9h0M119.8 332.2h0M127.1 330.6h0M125.2 328.3h0M134.6 331.8h0M116.8 332.4h0M145.5 330.6h0M127.3 331.7h0M129.1 330.7h0M114.9 330.6h0M134.2 332.1h0M128.3 332.1h0M108.9 332.1h0M120.4 328.4h0M123.0 332.3h0M144.2 329.8h0M132.2 332.2h0M126.4 326.9h0M125.8 331.4h0M141.4 331.3h0M141.6 331.8h0M116.3 331.8h0M136.5 328.6h0M121.4 330.9h0M130.8 330.3h0M125.2 332.4h0M112.0 331.7h0M126.9 332.4h0M124.4 330.4h0M130.1 325.8h0M125.6 329.5h0M122.3 330.5h0M131.5 331.3h0M121.4 329.9h0M122.6 331.6h0M132.4 327.3h0M128.7 330.0h0M133.9 331.2h0M128.2 330.0h0M139.2 332.2h0M142.8 330.8h0M112.2 332.3h0M131.2 331.9h0M128.6 331.6h0M122.0 331.9h0M121.8 332.2h0M129.5 322.1h0M117.0 327.2h0M120.7 328.4h0M136.0 325.8h0M117.9 331.8h0M111.5 331.6h0M127.7 332.1h0M137.1 332.0h0M142.5 331.6h0M115.6 332.1h0M120.0 323.7h0M137.5 332.3h0M114.7 329.1h0M115.6 331.6h0M121.0 331.8h0M122.9 329.2h0M115.1 331.9h0M115.4 332.3h0M131.3 332.3h0M118.8 332.1h0M127.9 329.1h0M112.3 331.3h0M114.0 332.3h0M136.4 330.7h0M126.2 330.5h0M124.2 331.0h0M136.8 327.7h0M119.6 332.3h0M138.0 329.2h0M126.7 331.5h0M136.5 330.7h0M125.1 324.9h0M138.2 330.5h0M130.6 327.5h0M114.4 326.8h0M129.5 330.9h0M120.8 332.2h0M141.0 325.0h0M132.8 331.9h0M125.9 331.1h0M113.2 329.2h0M135.0 332.2h0M135.4 332.5h0M142.2 332.3h0M128.6 329.4h0M124.6 332.0h0M125.9 325.6h0M129.1 327.2h0M126.4 331.8h0M134.9 331.6h0M109.6 332.0h0M144.1 332.1h0M144.5 332.4h0M131.3 326.1h0M136.2 330.9h0M129.8 321.2h0M142.8 329.1h0M140.6 329.4h0M111.3 332.3h0M138.0 328.9h0M135.2 331.4h0M116.5 331.1h0M117.8 329.2h0M120.3 330.3h0M120.0 330.5h0M141.2 328.3h0M138.5 332.3h0M139.7 330.1h0M144.7 331.1h0M119.5 331.3h0M138.7 331.5h0M142.1 329.9h0M124.4 332.0h0M134.0 329.9h0M133.2 330.0h0M116.0 329.4h0M128.6 330.6h0M128.9 331.1h0M139.8 326.2h0M128.8 332.2h0M128.9 328.3h0M142.3 330.8h0M123.4 331.2h0M122.5 331.7h0M128.1 331.1h0M137.4 330.8h0M129.7 329.8h0M132.7 329.1h0M130.7 331.8h0M112.4 330.1h0M140.1 328.2h0M131.0 331.8h0M118.3 330.9h0M129.4 332.5h0M139.2 328.7h0M110.9 332.1h0M139.4 330.3h0M142.3 329.2h0M136.0 332.4h0M129.6 330.4h0M127.5 332.0h0M124.7 329.4h0M118.9 323.9h0M132.5 332.0h0M111.9 332.1h0M113.1 332.4h0M136.6 326.6h0M120.3 332.0h0M140.0 332.2h0M133.6 332.2h0M133.8 315.4h0M129.4 332.2h0M130.8 331.3h0M140.2 332.3h0M117.0 331.3h0M125.6 332.1h0M143.8 332.1h0M129.9 325.3h0M118.8 329.7h0M139.7 331.9h0M131.3 327.0h0M131.0 331.7h0M111.7 332.5h0M130.5 330.4h0M114.9 331.9h0M130.8 331.2h0M126.1 329.1h0M114.9 331.3h0M110.2 331.4h0M138.8 330.5h0M133.2 331.1h0M140.8 331.0h0M139.3 332.4h0M114.6 330.1h0M133.5 331.1h0M131.0 332.4h0M130.4 331.5h0M132.3 323.2h0M140.3 327.8h0M116.4 329.8h0M139.5 331.4h0M144.0 330.8h0M123.6 332.4h0M119.6 332.1h0M128.5 329.3h0M140.8 329.8h0M142.3 330.9h0M124.5 329.9h0M134.6 320.1h0M113.9 331.6h0M135.1 332.1h0M137.6 319.0h0M140.9 332.0h0M129.5 330.2h0M122.7 331.8h0M134.7 329.8h0M133.5 332.5h0M127.8 328.3h0M129.1 330.2h0M123.5 330.1h0M126.8 332.4h0M119.4 327.9h0M114.0 331.4h0M125.4 332.1h0M129.0 331.7h0M133.3 332.2h0M143.4 332.0h0M126.9 329.3h0M132.8 332.0h0M138.5 328.1h0M122.6 329.3h0M125.2 322.2h0M138.8 331.0h0M132.1 332.5h0M116.4 331.8h0M132.5 329.0h0M132.8 332.1h0M137.6 331.2h0M135.2 331.5h0M124.0 330.3h0M121.3 325.6h0M118.9 332.4h0M140.1 329.8h0M125.0 329.8h0M115.2 329.9h0M130.2 332.4h0M111.0 330.7h0M123.2 331.6h0M116.2 331.5h0M116.8 332.1h0M139.9 328.8h0M112.8 331.8h0M141.4 327.9h0M116.8 332.1h0M112.0 332.1h0M119.2 327.7h0M117.1 330.7h0M136.5 330.6h0M132.8 331.9h0M135.9 332.0h0M142.1 330.4h0M133.4 332.4h0M124.6 330.7h0M112.0 329.6h0M130.8 332.4h0M114.1 327.9h0M145.3 331.2h0M101.6 328.6h0M156.0 332.3h0M142.4 331.9h0M152.3 329.9h0M141.6 329.4h0M111.7 331.6h0M158.6 330.5h0M164.5 329.5h0M145.6 331.3h0M165.5 330.7h0M140.8 331.1h0M146.2 332.0h0M104.0 329.6h0M90.2 330.9h0M153.0 328.6h0M95.0 331.8h0M156.2 331.9h0M110.8 330.2h0M142.7 329.6h0M112.6 331.3h0M89.7 328.1h0M104.7 330.6h0M100.3 331.4h0M96.8 331.9h0M97.0 326.8h0M93.3 331.0h0M111.4 332.3h0M111.6 330.9h0M142.0 331.7h0M105.1 328.2h0M160.7 331.7h0M154.5 331.2h0M107.5 331.7h0M104.4 327.6h0M162.3 331.4h0M150.8 331.5h0M159.1 330.5h0M143.8 330.7h0M100.5 331.8h0M163.9 330.0h0M90.1 331.9h0M165.3 326.0h0M94.2 327.9h0M164.8 328.7h0M162.5 331.2h0M150.4 329.0h0M152.2 331.4h0M150.2 330.0h0M163.1 331.4h0M147.5 329.2h0M100.0 332.0h0M113.3 329.6h0M91.2 329.5h0M98.0 331.9h0M110.2 330.3h0M106.4 332.3h0M155.1 330.0h0M159.8 329.0h0M98.8 331.2h0M105.7 330.8h0M110.8 327.0h0M158.0 331.9h0M161.9 328.8h0M148.0 331.3h0M100.8 328.1h0M112.6 329.1h0M110.8 332.2h0M140.4 331.7h0M104.5 330.8h0M142.6 330.9h0M98.7 331.5h0M163.6 328.1h0M105.9 331.2h0M91.3 328.5h0M105.6 327.6h0M144.3 328.3h0M91.5 330.0h0M89.7 330.5h0M148.6 332.1h0M100.4 331.9h0M100.5 331.8h0M161.2 326.1h0M97.3 330.1h0M108.2 329.6h0M110.8 331.3h0M162.2 332.1h0M98.8 330.7h0M112.9 331.4h0M108.0 331.8h0M140.6 329.0h0M92.2 332.1h0M152.3 326.7h0M149.7 332.0h0M142.3 332.3h0M141.0 331.8h0M153.7 327.3h0M161.8 326.3h0M99.6 330.8h0M95.3 332.2h0M140.4 331.0h0M111.2 330.3h0M165.6 328.5h0M157.7 331.5h0M159.2 325.8h0M161.6 332.0h0M100.8 332.3h0M95.7 329.1h0M92.6 330.8h0M92.3 328.9h0M162.9 331.5h0M112.3 327.3h0M165.8 331.8h0M164.0 328.9h0M165.5 327.9h0M152.5 331.2h0M164.5 332.0h0M108.9 326.6h0M148.4 331.8h0" stroke="#d3d3d3" stroke-width="1.2" stroke-linecap="round" fill="none"/>
<path d="M114.3 190.8 L114.3 338" stroke="#b2b2b2" stroke-width="0.7" stroke-dasharray="1.6 1.6"/>
<path d="M140.4 190.8 L140.4 338" stroke="#b2b2b2" stroke-width="0.7" stroke-dasharray="1.6 1.6"/>
<path d="M29 324.8 L236.4 324.8" stroke="#b2b2b2" stroke-width="0.7" stroke-dasharray="1.6 1.6"/>
<g fill="#ababab" stroke="#2a2a2a" stroke-width="0.5">
<circle cx="110" cy="197" r="1.5"/>
<circle cx="113.3" cy="207.4" r="1.5"/>
<circle cx="113.3" cy="210.5" r="1.5"/>
<circle cx="110" cy="230.8" r="1.5"/>
<circle cx="113.3" cy="248.5" r="1.5"/>
<circle cx="110" cy="262" r="1.5"/>
<circle cx="110.7" cy="274.6" r="1.5"/>
<circle cx="114.3" cy="274.6" r="1.5"/>
<circle cx="113.3" cy="279.9" r="1.5"/>
<circle cx="113.3" cy="288" r="1.5"/>
<circle cx="112.5" cy="290.5" r="1.5"/>
<circle cx="109.2" cy="293.6" r="1.5"/>
<circle cx="104.9" cy="300.2" r="1.5"/>
<circle cx="108.7" cy="300.7" r="1.5"/>
<circle cx="112.5" cy="300.7" r="1.5"/>
<circle cx="100.6" cy="303.7" r="1.5"/>
<circle cx="106.9" cy="307.8" r="1.5"/>
<circle cx="110.7" cy="307.8" r="1.5"/>
<circle cx="113.8" cy="307.8" r="1.5"/>
<circle cx="113.8" cy="310.8" r="1.5"/>
<circle cx="111.2" cy="312" r="1.5"/>
<circle cx="114.3" cy="313.9" r="1.5"/>
<circle cx="114.3" cy="316.4" r="1.5"/>
<circle cx="78.8" cy="314.6" r="1.5"/>
<circle cx="79.6" cy="321" r="1.5"/>
<circle cx="87.2" cy="319.7" r="1.5"/>
<circle cx="99.1" cy="318.4" r="1.5"/>
<circle cx="101.1" cy="320.5" r="1.5"/>
<circle cx="105.7" cy="317.2" r="1.5"/>
<circle cx="107.4" cy="319.7" r="1.5"/>
<circle cx="102.3" cy="323.6" r="1.5"/>
<circle cx="104.5" cy="322.6" r="1.5"/>
<circle cx="106.6" cy="323.8" r="1.5"/>
<circle cx="108.6" cy="322.4" r="1.5"/>
<circle cx="110.4" cy="323.9" r="1.5"/>
<circle cx="112.2" cy="322.6" r="1.5"/>
<circle cx="113.6" cy="321.4" r="1.5"/>
<circle cx="111" cy="320.6" r="1.5"/>
<circle cx="113.9" cy="323.6" r="1.5"/>
</g>
<g fill="#fadb92" stroke="#43361a" stroke-width="0.5">
<circle cx="227.2" cy="283.5" r="1.5"/>
<circle cx="142" cy="296.1" r="1.5"/>
<circle cx="144.8" cy="298.9" r="1.5"/>
<circle cx="142.7" cy="315.6" r="1.5"/>
<circle cx="144.9" cy="317.8" r="1.5"/>
<circle cx="140.4" cy="320.9" r="1.5"/>
<circle cx="144.1" cy="321.2" r="1.5"/>
<circle cx="146.7" cy="321.5" r="1.5"/>
<circle cx="142.1" cy="323.7" r="1.5"/>
<circle cx="145.4" cy="323.7" r="1.5"/>
<circle cx="147.3" cy="324.7" r="1.5"/>
<circle cx="154.7" cy="321.9" r="1.5"/>
<circle cx="154.2" cy="320.9" r="1.5"/>
<circle cx="152.8" cy="324.9" r="1.5"/>
<circle cx="162.6" cy="322.9" r="1.5"/>
<circle cx="169" cy="323.2" r="1.5"/>
<circle cx="173.3" cy="323.5" r="1.5"/>
<circle cx="182.5" cy="318.5" r="1.5"/>
<circle cx="200.6" cy="317.7" r="1.5"/>
<circle cx="199.1" cy="323" r="1.5"/>
<circle cx="218.1" cy="323.7" r="1.5"/>
</g>
<g stroke="#333" stroke-width="0.5"><path d="M160.2 313.8 L162.2 321.4"/><path d="M153.3 326.1 L157.2 332.5"/><path d="M174 325 L178.4 331.6"/></g>
<rect x="28.8" y="190.4" width="207.8" height="148" fill="none" stroke="#111" stroke-width="1"/>
<text class="i" x="55.5" y="199.6" font-size="7.45">LOC113218735</text>
<text class="i" x="116.3" y="209.3" font-size="7.45">Uqcr11</text>
<text class="i" x="66.9" y="218.6" font-size="7.45">LOC113218630</text>
<text class="i" x="102.4" y="228.3" font-size="7.45">LOC726118</text>
<text class="i" x="87.9" y="246.0" font-size="7.45">LOC727026</text>
<text class="i" x="77.8" y="259.5" font-size="7.45">LOC727025</text>
<text class="i" x="72" y="272.1" font-size="7.45">LOC725383</text>
<text class="i" x="95.5" y="286.8" font-size="7.45">Tom7</text>
<text class="i" x="67.6" y="294.4" font-size="7.45">LOC552494</text>
<text class="i" x="84.6" y="304.6" font-size="7.45">ND2</text>
<text class="i" x="37.2" y="312.6" font-size="7.45">LOC107964868</text>
<text class="i" x="213.8" y="279.2" font-size="7.45">Mrjp2</text>
<text class="i" x="131.9" y="291.9" font-size="7.45">LOC410620</text>
<text class="i" x="147.9" y="300.7" font-size="7.45">ND1</text>
<text class="i" x="144.1" y="312.9" font-size="7.45">Hex70a</text>
<text class="i" x="173.2" y="314.2" font-size="7.45">Obp14</text>
<text class="i" x="198" y="314.2" font-size="7.45">Mrjp7</text>
<text class="i" x="146.6" y="337.0" font-size="7.45">Or115</text>
<text class="i" x="174.5" y="335.7" font-size="7.45">Mrjp1</text>
<text x="26.7" y="335.0" font-size="6.7" text-anchor="end">0</text>
<text x="26.7" y="304.0" font-size="6.7" text-anchor="end">5</text>
<text x="26.7" y="273.0" font-size="6.7" text-anchor="end">10</text>
<text x="26.7" y="242.0" font-size="6.7" text-anchor="end">15</text>
<text x="26.7" y="211.0" font-size="6.7" text-anchor="end">20</text>
<text x="75.8" y="346.1" font-size="7" text-anchor="middle">-4</text>
<text x="127.4" y="346.1" font-size="7" text-anchor="middle">0</text>
<text x="179.0" y="346.1" font-size="7" text-anchor="middle">4</text>
<text x="230.6" y="346.1" font-size="7" text-anchor="middle">8</text>
<text x="132" y="353.6" font-size="7.5" text-anchor="middle">log<tspan font-size="5.2" dy="1.5">2</tspan><tspan dy="-1.5"> (Fold Change)</tspan></text>
<text transform="translate(14.6 265) rotate(-90)" font-size="7.5" text-anchor="middle">-log<tspan font-size="5.2" dy="1.5">10</tspan><tspan dy="-1.5"> FDR</tspan></text>
<text class="b" x="262.5" y="179.8" font-size="9.7">d</text>
<text x="545.1" y="191" font-size="9.6" text-anchor="middle">Upregulated pathways in CV</text>
<path d="M434.6 208.1 L653.8 208.1" stroke="#e6e6e6" stroke-width="0.7"/>
<path d="M434.6 222.0 L653.8 222.0" stroke="#e6e6e6" stroke-width="0.7"/>
<path d="M434.6 235.9 L653.8 235.9" stroke="#e6e6e6" stroke-width="0.7"/>
<path d="M434.6 249.8 L653.8 249.8" stroke="#e6e6e6" stroke-width="0.7"/>
<path d="M434.6 263.7 L653.8 263.7" stroke="#e6e6e6" stroke-width="0.7"/>
<path d="M434.6 277.6 L653.8 277.6" stroke="#e6e6e6" stroke-width="0.7"/>
<path d="M434.6 291.5 L653.8 291.5" stroke="#e6e6e6" stroke-width="0.7"/>
<path d="M434.6 305.4 L653.8 305.4" stroke="#e6e6e6" stroke-width="0.7"/>
<path d="M434.6 319.3 L653.8 319.3" stroke="#e6e6e6" stroke-width="0.7"/>
<path d="M431.8 208.1 L434.4 208.1" stroke="#333" stroke-width="0.7"/>
<text x="429.4" y="211.2" font-size="8.9" text-anchor="end">Linoleic acid metabolism</text>
<path d="M431.8 222.0 L434.4 222.0" stroke="#333" stroke-width="0.7"/>
<text x="429.4" y="225.1" font-size="8.9" text-anchor="end">alpha-Linoleic acid metabolism</text>
<path d="M431.8 235.9 L434.4 235.9" stroke="#333" stroke-width="0.7"/>
<text x="429.4" y="239.0" font-size="8.9" text-anchor="end">Arachidonic acid metabolism</text>
<path d="M431.8 249.8 L434.4 249.8" stroke="#333" stroke-width="0.7"/>
<text x="429.4" y="252.9" font-size="8.9" text-anchor="end">Glycerophospholipid metabolism</text>
<path d="M431.8 263.7 L434.4 263.7" stroke="#333" stroke-width="0.7"/>
<text x="429.4" y="266.8" font-size="8.9" text-anchor="end">Biosynthesis of unsaturated fatty acids</text>
<path d="M431.8 277.6 L434.4 277.6" stroke="#333" stroke-width="0.7"/>
<text x="429.4" y="280.7" font-size="8.9" text-anchor="end">Fatty acid elongation</text>
<path d="M431.8 291.5 L434.4 291.5" stroke="#333" stroke-width="0.7"/>
<text x="429.4" y="294.6" font-size="8.9" text-anchor="end">PPAR signaling pathway</text>
<path d="M431.8 305.4 L434.4 305.4" stroke="#333" stroke-width="0.7"/>
<text x="429.4" y="308.5" font-size="8.9" text-anchor="end">Wnt signaling pathway</text>
<path d="M431.8 319.3 L434.4 319.3" stroke="#333" stroke-width="0.7"/>
<text x="429.4" y="322.4" font-size="8.9" text-anchor="end">Spliceosome</text>
<path d="M468.2 200.6 L468.2 327.2" stroke="#f4101c" stroke-width="1.3" stroke-dasharray="4.5 4.3"/>
<circle cx="643.9" cy="208.1" r="3.5" fill="#7a0410" stroke="#222" stroke-width="0.8"/>
<circle cx="640.6" cy="222.0" r="3.5" fill="#7c0511" stroke="#222" stroke-width="0.8"/>
<circle cx="620.5" cy="235.9" r="3.5" fill="#8e0a14" stroke="#222" stroke-width="0.8"/>
<circle cx="568.9" cy="249.8" r="3.5" fill="#e03a2b" stroke="#222" stroke-width="0.8"/>
<circle cx="473.0" cy="263.7" r="3.5" fill="#fbe3d9" stroke="#222" stroke-width="0.8"/>
<circle cx="469.2" cy="277.6" r="3.5" fill="#fbe5dc" stroke="#222" stroke-width="0.8"/>
<circle cx="462.1" cy="291.5" r="3.5" fill="#fce8df" stroke="#222" stroke-width="0.8"/>
<circle cx="450.8" cy="305.4" r="3.5" fill="#fdebe3" stroke="#222" stroke-width="0.8"/>
<circle cx="444.5" cy="319.3" r="3.5" fill="#fdece5" stroke="#222" stroke-width="0.8"/>
<rect x="434.5" y="199.3" width="219.4" height="128" fill="none" stroke="#8c8c8c" stroke-width="0.9"/>
<path d="M455.4 327.4 L455.4 329.6" stroke="#333" stroke-width="0.7"/>
<text x="455.4" y="338.9" font-size="8.7" text-anchor="middle">1</text>
<path d="M497.3 327.4 L497.3 329.6" stroke="#333" stroke-width="0.7"/>
<text x="497.3" y="338.9" font-size="8.7" text-anchor="middle">2</text>
<path d="M539.2 327.4 L539.2 329.6" stroke="#333" stroke-width="0.7"/>
<text x="539.2" y="338.9" font-size="8.7" text-anchor="middle">3</text>
<path d="M581.1 327.4 L581.1 329.6" stroke="#333" stroke-width="0.7"/>
<text x="581.1" y="338.9" font-size="8.7" text-anchor="middle">4</text>
<path d="M623.0 327.4 L623.0 329.6" stroke="#333" stroke-width="0.7"/>
<text x="623.0" y="338.9" font-size="8.7" text-anchor="middle">5</text>
<text x="544.1" y="352" font-size="8.9" text-anchor="middle">-log<tspan font-size="6.2" dy="1.7">10</tspan><tspan dy="-1.7">(p value)</tspan></text>
<rect x="666.2" y="292.8" width="9.6" height="33.8" fill="url(#reds)"/>
<path d="M676 292.8 L676 326.6" stroke="#333" stroke-width="0.6"/>
<path d="M676 293 L677.7 293" stroke="#333" stroke-width="0.6"/>
<text transform="translate(684.3 293.2) rotate(-90)" font-size="6.7" text-anchor="middle">6</text>
<path d="M676 309.8 L677.7 309.8" stroke="#333" stroke-width="0.6"/>
<text transform="translate(684.3 310.0) rotate(-90)" font-size="6.7" text-anchor="middle">3</text>
<path d="M676 326.4 L677.7 326.4" stroke="#333" stroke-width="0.6"/>
<text transform="translate(684.3 326.59999999999997) rotate(-90)" font-size="6.7" text-anchor="middle">0</text>
<text transform="translate(662.7 310) rotate(-90)" font-size="7.65" text-anchor="middle">-log<tspan font-size="5.3" dy="1.5">10</tspan><tspan dy="-1.5">(p value)</tspan></text>
</svg></body></html>
